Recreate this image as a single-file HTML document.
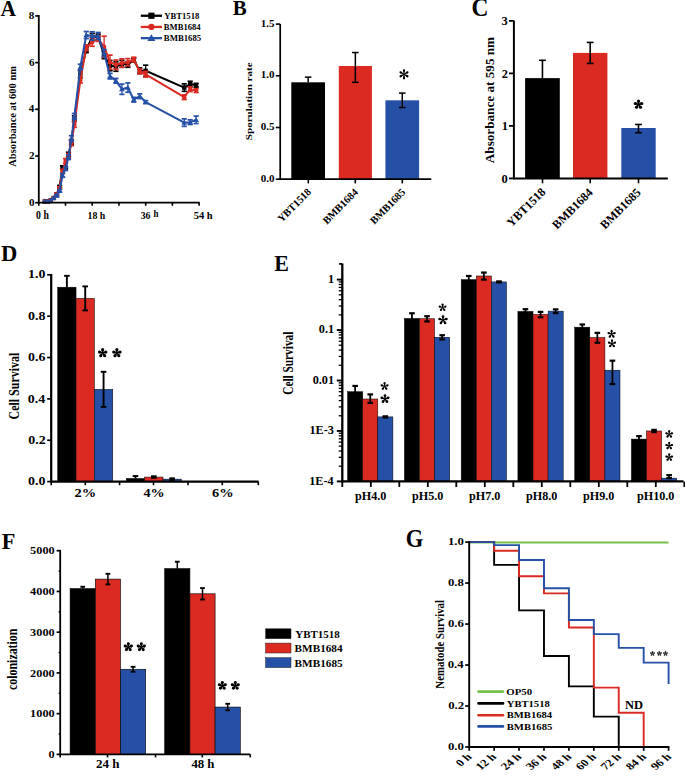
<!DOCTYPE html>
<html><head><meta charset="utf-8"><style>
html,body{margin:0;padding:0;background:#fff;}
svg{display:block;}
text{font-family:"Liberation Serif",serif;font-weight:bold;}
</style></head><body>
<svg width="685" height="776" viewBox="0 0 685 776">
<rect width="685" height="776" fill="#fff"/>
<text transform="translate(0.44 15.70) scale(0.910 1)" font-size="23.69" fill="#000">A</text>
<polyline points="44.74,201.53 47.71,201.53 50.67,200.36 53.64,198.03 56.61,194.53 59.58,186.82 62.55,167.67 65.52,167.67 68.48,154.60 71.45,141.99 74.42,118.64 80.36,74.27 86.30,49.76 92.23,36.91 98.17,36.91 104.11,55.13 110.04,65.64 115.98,66.57 121.92,63.77 127.86,64.47 133.79,60.26 139.73,70.77 145.67,70.77 184.26,87.58 190.19,84.08 196.13,85.25" fill="none" stroke="#000" stroke-width="2" stroke-linejoin="round"/>
<rect x="42.54" y="199.33" width="4.40" height="4.40" fill="#000"/>
<rect x="45.51" y="199.33" width="4.40" height="4.40" fill="#000"/>
<rect x="48.47" y="198.16" width="4.40" height="4.40" fill="#000"/>
<rect x="51.44" y="195.83" width="4.40" height="4.40" fill="#000"/>
<line x1="56.61" y1="193.36" x2="56.61" y2="195.69" stroke="#000" stroke-width="1.3" stroke-linecap="butt"/>
<line x1="54.01" y1="193.36" x2="59.21" y2="193.36" stroke="#000" stroke-width="1.7" stroke-linecap="butt"/>
<line x1="54.01" y1="195.69" x2="59.21" y2="195.69" stroke="#000" stroke-width="1.7" stroke-linecap="butt"/>
<rect x="54.41" y="192.33" width="4.40" height="4.40" fill="#000"/>
<line x1="59.58" y1="185.65" x2="59.58" y2="187.99" stroke="#000" stroke-width="1.3" stroke-linecap="butt"/>
<line x1="56.98" y1="185.65" x2="62.18" y2="185.65" stroke="#000" stroke-width="1.7" stroke-linecap="butt"/>
<line x1="56.98" y1="187.99" x2="62.18" y2="187.99" stroke="#000" stroke-width="1.7" stroke-linecap="butt"/>
<rect x="57.38" y="184.62" width="4.40" height="4.40" fill="#000"/>
<line x1="62.55" y1="165.81" x2="62.55" y2="169.54" stroke="#000" stroke-width="1.3" stroke-linecap="butt"/>
<line x1="59.95" y1="165.81" x2="65.15" y2="165.81" stroke="#000" stroke-width="1.7" stroke-linecap="butt"/>
<line x1="59.95" y1="169.54" x2="65.15" y2="169.54" stroke="#000" stroke-width="1.7" stroke-linecap="butt"/>
<rect x="60.35" y="165.47" width="4.40" height="4.40" fill="#000"/>
<line x1="65.52" y1="166.51" x2="65.52" y2="168.84" stroke="#000" stroke-width="1.3" stroke-linecap="butt"/>
<line x1="62.92" y1="166.51" x2="68.12" y2="166.51" stroke="#000" stroke-width="1.7" stroke-linecap="butt"/>
<line x1="62.92" y1="168.84" x2="68.12" y2="168.84" stroke="#000" stroke-width="1.7" stroke-linecap="butt"/>
<rect x="63.32" y="165.47" width="4.40" height="4.40" fill="#000"/>
<line x1="68.48" y1="152.26" x2="68.48" y2="156.93" stroke="#000" stroke-width="1.3" stroke-linecap="butt"/>
<line x1="65.89" y1="152.26" x2="71.08" y2="152.26" stroke="#000" stroke-width="1.7" stroke-linecap="butt"/>
<line x1="65.89" y1="156.93" x2="71.08" y2="156.93" stroke="#000" stroke-width="1.7" stroke-linecap="butt"/>
<rect x="66.28" y="152.40" width="4.40" height="4.40" fill="#000"/>
<line x1="71.45" y1="139.65" x2="71.45" y2="144.32" stroke="#000" stroke-width="1.3" stroke-linecap="butt"/>
<line x1="68.85" y1="139.65" x2="74.05" y2="139.65" stroke="#000" stroke-width="1.7" stroke-linecap="butt"/>
<line x1="68.85" y1="144.32" x2="74.05" y2="144.32" stroke="#000" stroke-width="1.7" stroke-linecap="butt"/>
<rect x="69.25" y="139.79" width="4.40" height="4.40" fill="#000"/>
<line x1="74.42" y1="115.84" x2="74.42" y2="121.44" stroke="#000" stroke-width="1.3" stroke-linecap="butt"/>
<line x1="71.82" y1="115.84" x2="77.02" y2="115.84" stroke="#000" stroke-width="1.7" stroke-linecap="butt"/>
<line x1="71.82" y1="121.44" x2="77.02" y2="121.44" stroke="#000" stroke-width="1.7" stroke-linecap="butt"/>
<rect x="72.22" y="116.44" width="4.40" height="4.40" fill="#000"/>
<line x1="80.36" y1="70.77" x2="80.36" y2="77.78" stroke="#000" stroke-width="1.3" stroke-linecap="butt"/>
<line x1="77.76" y1="70.77" x2="82.96" y2="70.77" stroke="#000" stroke-width="1.7" stroke-linecap="butt"/>
<line x1="77.76" y1="77.78" x2="82.96" y2="77.78" stroke="#000" stroke-width="1.7" stroke-linecap="butt"/>
<rect x="78.16" y="72.07" width="4.40" height="4.40" fill="#000"/>
<line x1="86.30" y1="46.96" x2="86.30" y2="52.56" stroke="#000" stroke-width="1.3" stroke-linecap="butt"/>
<line x1="83.70" y1="46.96" x2="88.90" y2="46.96" stroke="#000" stroke-width="1.7" stroke-linecap="butt"/>
<line x1="83.70" y1="52.56" x2="88.90" y2="52.56" stroke="#000" stroke-width="1.7" stroke-linecap="butt"/>
<rect x="84.10" y="47.56" width="4.40" height="4.40" fill="#000"/>
<line x1="92.23" y1="33.41" x2="92.23" y2="40.42" stroke="#000" stroke-width="1.3" stroke-linecap="butt"/>
<line x1="89.63" y1="33.41" x2="94.83" y2="33.41" stroke="#000" stroke-width="1.7" stroke-linecap="butt"/>
<line x1="89.63" y1="40.42" x2="94.83" y2="40.42" stroke="#000" stroke-width="1.7" stroke-linecap="butt"/>
<rect x="90.03" y="34.71" width="4.40" height="4.40" fill="#000"/>
<line x1="98.17" y1="34.11" x2="98.17" y2="39.72" stroke="#000" stroke-width="1.3" stroke-linecap="butt"/>
<line x1="95.57" y1="34.11" x2="100.77" y2="34.11" stroke="#000" stroke-width="1.7" stroke-linecap="butt"/>
<line x1="95.57" y1="39.72" x2="100.77" y2="39.72" stroke="#000" stroke-width="1.7" stroke-linecap="butt"/>
<rect x="95.97" y="34.71" width="4.40" height="4.40" fill="#000"/>
<line x1="104.11" y1="51.63" x2="104.11" y2="58.63" stroke="#000" stroke-width="1.3" stroke-linecap="butt"/>
<line x1="101.51" y1="51.63" x2="106.71" y2="51.63" stroke="#000" stroke-width="1.7" stroke-linecap="butt"/>
<line x1="101.51" y1="58.63" x2="106.71" y2="58.63" stroke="#000" stroke-width="1.7" stroke-linecap="butt"/>
<rect x="101.91" y="52.93" width="4.40" height="4.40" fill="#000"/>
<line x1="110.04" y1="60.50" x2="110.04" y2="70.77" stroke="#000" stroke-width="1.3" stroke-linecap="butt"/>
<line x1="107.44" y1="60.50" x2="112.64" y2="60.50" stroke="#000" stroke-width="1.7" stroke-linecap="butt"/>
<line x1="107.44" y1="70.77" x2="112.64" y2="70.77" stroke="#000" stroke-width="1.7" stroke-linecap="butt"/>
<rect x="107.84" y="63.44" width="4.40" height="4.40" fill="#000"/>
<line x1="115.98" y1="61.90" x2="115.98" y2="71.24" stroke="#000" stroke-width="1.3" stroke-linecap="butt"/>
<line x1="113.38" y1="61.90" x2="118.58" y2="61.90" stroke="#000" stroke-width="1.7" stroke-linecap="butt"/>
<line x1="113.38" y1="71.24" x2="118.58" y2="71.24" stroke="#000" stroke-width="1.7" stroke-linecap="butt"/>
<rect x="113.78" y="64.37" width="4.40" height="4.40" fill="#000"/>
<line x1="121.92" y1="60.26" x2="121.92" y2="67.27" stroke="#000" stroke-width="1.3" stroke-linecap="butt"/>
<line x1="119.32" y1="60.26" x2="124.52" y2="60.26" stroke="#000" stroke-width="1.7" stroke-linecap="butt"/>
<line x1="119.32" y1="67.27" x2="124.52" y2="67.27" stroke="#000" stroke-width="1.7" stroke-linecap="butt"/>
<rect x="119.72" y="61.57" width="4.40" height="4.40" fill="#000"/>
<line x1="127.86" y1="61.67" x2="127.86" y2="67.27" stroke="#000" stroke-width="1.3" stroke-linecap="butt"/>
<line x1="125.26" y1="61.67" x2="130.46" y2="61.67" stroke="#000" stroke-width="1.7" stroke-linecap="butt"/>
<line x1="125.26" y1="67.27" x2="130.46" y2="67.27" stroke="#000" stroke-width="1.7" stroke-linecap="butt"/>
<rect x="125.66" y="62.27" width="4.40" height="4.40" fill="#000"/>
<line x1="133.79" y1="58.40" x2="133.79" y2="62.13" stroke="#000" stroke-width="1.3" stroke-linecap="butt"/>
<line x1="131.19" y1="58.40" x2="136.39" y2="58.40" stroke="#000" stroke-width="1.7" stroke-linecap="butt"/>
<line x1="131.19" y1="62.13" x2="136.39" y2="62.13" stroke="#000" stroke-width="1.7" stroke-linecap="butt"/>
<rect x="131.59" y="58.06" width="4.40" height="4.40" fill="#000"/>
<line x1="139.73" y1="67.97" x2="139.73" y2="73.57" stroke="#000" stroke-width="1.3" stroke-linecap="butt"/>
<line x1="137.13" y1="67.97" x2="142.33" y2="67.97" stroke="#000" stroke-width="1.7" stroke-linecap="butt"/>
<line x1="137.13" y1="73.57" x2="142.33" y2="73.57" stroke="#000" stroke-width="1.7" stroke-linecap="butt"/>
<rect x="137.53" y="68.57" width="4.40" height="4.40" fill="#000"/>
<line x1="145.67" y1="65.17" x2="145.67" y2="76.38" stroke="#000" stroke-width="1.3" stroke-linecap="butt"/>
<line x1="143.07" y1="65.17" x2="148.27" y2="65.17" stroke="#000" stroke-width="1.7" stroke-linecap="butt"/>
<line x1="143.07" y1="76.38" x2="148.27" y2="76.38" stroke="#000" stroke-width="1.7" stroke-linecap="butt"/>
<rect x="143.47" y="68.57" width="4.40" height="4.40" fill="#000"/>
<line x1="184.26" y1="83.85" x2="184.26" y2="91.32" stroke="#000" stroke-width="1.3" stroke-linecap="butt"/>
<line x1="181.66" y1="83.85" x2="186.86" y2="83.85" stroke="#000" stroke-width="1.7" stroke-linecap="butt"/>
<line x1="181.66" y1="91.32" x2="186.86" y2="91.32" stroke="#000" stroke-width="1.7" stroke-linecap="butt"/>
<rect x="182.06" y="85.38" width="4.40" height="4.40" fill="#000"/>
<line x1="190.19" y1="81.28" x2="190.19" y2="86.88" stroke="#000" stroke-width="1.3" stroke-linecap="butt"/>
<line x1="187.59" y1="81.28" x2="192.79" y2="81.28" stroke="#000" stroke-width="1.7" stroke-linecap="butt"/>
<line x1="187.59" y1="86.88" x2="192.79" y2="86.88" stroke="#000" stroke-width="1.7" stroke-linecap="butt"/>
<rect x="187.99" y="81.88" width="4.40" height="4.40" fill="#000"/>
<line x1="196.13" y1="83.38" x2="196.13" y2="87.12" stroke="#000" stroke-width="1.3" stroke-linecap="butt"/>
<line x1="193.53" y1="83.38" x2="198.73" y2="83.38" stroke="#000" stroke-width="1.7" stroke-linecap="butt"/>
<line x1="193.53" y1="87.12" x2="198.73" y2="87.12" stroke="#000" stroke-width="1.7" stroke-linecap="butt"/>
<rect x="193.93" y="83.05" width="4.40" height="4.40" fill="#000"/>
<polyline points="44.74,201.53 47.71,201.53 50.67,200.36 53.64,198.03 56.61,194.53 59.58,187.99 62.55,171.41 65.52,160.90 68.48,156.00 71.45,142.92 74.42,124.48 80.36,80.11 86.30,47.66 92.23,42.05 98.17,38.55 104.11,46.72 110.04,62.13 115.98,64.70 121.92,63.07 127.86,62.13 133.79,59.56 139.73,71.47 145.67,74.27 184.26,97.16 190.19,89.22 196.13,90.62" fill="none" stroke="#da2a21" stroke-width="2" stroke-linejoin="round"/>
<circle cx="44.74" cy="201.53" r="2.20" fill="#da2a21"/>
<circle cx="47.71" cy="201.53" r="2.20" fill="#da2a21"/>
<circle cx="50.67" cy="200.36" r="2.20" fill="#da2a21"/>
<circle cx="53.64" cy="198.03" r="2.20" fill="#da2a21"/>
<line x1="56.61" y1="193.36" x2="56.61" y2="195.69" stroke="#da2a21" stroke-width="1.3" stroke-linecap="butt"/>
<line x1="54.01" y1="193.36" x2="59.21" y2="193.36" stroke="#da2a21" stroke-width="1.7" stroke-linecap="butt"/>
<line x1="54.01" y1="195.69" x2="59.21" y2="195.69" stroke="#da2a21" stroke-width="1.7" stroke-linecap="butt"/>
<circle cx="56.61" cy="194.53" r="2.20" fill="#da2a21"/>
<line x1="59.58" y1="186.82" x2="59.58" y2="189.16" stroke="#da2a21" stroke-width="1.3" stroke-linecap="butt"/>
<line x1="56.98" y1="186.82" x2="62.18" y2="186.82" stroke="#da2a21" stroke-width="1.7" stroke-linecap="butt"/>
<line x1="56.98" y1="189.16" x2="62.18" y2="189.16" stroke="#da2a21" stroke-width="1.7" stroke-linecap="butt"/>
<circle cx="59.58" cy="187.99" r="2.20" fill="#da2a21"/>
<line x1="62.55" y1="169.54" x2="62.55" y2="173.28" stroke="#da2a21" stroke-width="1.3" stroke-linecap="butt"/>
<line x1="59.95" y1="169.54" x2="65.15" y2="169.54" stroke="#da2a21" stroke-width="1.7" stroke-linecap="butt"/>
<line x1="59.95" y1="173.28" x2="65.15" y2="173.28" stroke="#da2a21" stroke-width="1.7" stroke-linecap="butt"/>
<circle cx="62.55" cy="171.41" r="2.20" fill="#da2a21"/>
<line x1="65.52" y1="158.57" x2="65.52" y2="163.24" stroke="#da2a21" stroke-width="1.3" stroke-linecap="butt"/>
<line x1="62.92" y1="158.57" x2="68.12" y2="158.57" stroke="#da2a21" stroke-width="1.7" stroke-linecap="butt"/>
<line x1="62.92" y1="163.24" x2="68.12" y2="163.24" stroke="#da2a21" stroke-width="1.7" stroke-linecap="butt"/>
<circle cx="65.52" cy="160.90" r="2.20" fill="#da2a21"/>
<line x1="68.48" y1="153.66" x2="68.48" y2="158.33" stroke="#da2a21" stroke-width="1.3" stroke-linecap="butt"/>
<line x1="65.89" y1="153.66" x2="71.08" y2="153.66" stroke="#da2a21" stroke-width="1.7" stroke-linecap="butt"/>
<line x1="65.89" y1="158.33" x2="71.08" y2="158.33" stroke="#da2a21" stroke-width="1.7" stroke-linecap="butt"/>
<circle cx="68.48" cy="156.00" r="2.20" fill="#da2a21"/>
<line x1="71.45" y1="140.12" x2="71.45" y2="145.73" stroke="#da2a21" stroke-width="1.3" stroke-linecap="butt"/>
<line x1="68.85" y1="140.12" x2="74.05" y2="140.12" stroke="#da2a21" stroke-width="1.7" stroke-linecap="butt"/>
<line x1="68.85" y1="145.73" x2="74.05" y2="145.73" stroke="#da2a21" stroke-width="1.7" stroke-linecap="butt"/>
<circle cx="71.45" cy="142.92" r="2.20" fill="#da2a21"/>
<line x1="74.42" y1="121.68" x2="74.42" y2="127.28" stroke="#da2a21" stroke-width="1.3" stroke-linecap="butt"/>
<line x1="71.82" y1="121.68" x2="77.02" y2="121.68" stroke="#da2a21" stroke-width="1.7" stroke-linecap="butt"/>
<line x1="71.82" y1="127.28" x2="77.02" y2="127.28" stroke="#da2a21" stroke-width="1.7" stroke-linecap="butt"/>
<circle cx="74.42" cy="124.48" r="2.20" fill="#da2a21"/>
<line x1="80.36" y1="77.31" x2="80.36" y2="82.91" stroke="#da2a21" stroke-width="1.3" stroke-linecap="butt"/>
<line x1="77.76" y1="77.31" x2="82.96" y2="77.31" stroke="#da2a21" stroke-width="1.7" stroke-linecap="butt"/>
<line x1="77.76" y1="82.91" x2="82.96" y2="82.91" stroke="#da2a21" stroke-width="1.7" stroke-linecap="butt"/>
<circle cx="80.36" cy="80.11" r="2.20" fill="#da2a21"/>
<line x1="86.30" y1="44.85" x2="86.30" y2="50.46" stroke="#da2a21" stroke-width="1.3" stroke-linecap="butt"/>
<line x1="83.70" y1="44.85" x2="88.90" y2="44.85" stroke="#da2a21" stroke-width="1.7" stroke-linecap="butt"/>
<line x1="83.70" y1="50.46" x2="88.90" y2="50.46" stroke="#da2a21" stroke-width="1.7" stroke-linecap="butt"/>
<circle cx="86.30" cy="47.66" r="2.20" fill="#da2a21"/>
<line x1="92.23" y1="37.85" x2="92.23" y2="46.25" stroke="#da2a21" stroke-width="1.3" stroke-linecap="butt"/>
<line x1="89.63" y1="37.85" x2="94.83" y2="37.85" stroke="#da2a21" stroke-width="1.7" stroke-linecap="butt"/>
<line x1="89.63" y1="46.25" x2="94.83" y2="46.25" stroke="#da2a21" stroke-width="1.7" stroke-linecap="butt"/>
<circle cx="92.23" cy="42.05" r="2.20" fill="#da2a21"/>
<line x1="98.17" y1="35.75" x2="98.17" y2="41.35" stroke="#da2a21" stroke-width="1.3" stroke-linecap="butt"/>
<line x1="95.57" y1="35.75" x2="100.77" y2="35.75" stroke="#da2a21" stroke-width="1.7" stroke-linecap="butt"/>
<line x1="95.57" y1="41.35" x2="100.77" y2="41.35" stroke="#da2a21" stroke-width="1.7" stroke-linecap="butt"/>
<circle cx="98.17" cy="38.55" r="2.20" fill="#da2a21"/>
<line x1="104.11" y1="36.21" x2="104.11" y2="57.23" stroke="#da2a21" stroke-width="1.3" stroke-linecap="butt"/>
<line x1="101.51" y1="36.21" x2="106.71" y2="36.21" stroke="#da2a21" stroke-width="1.7" stroke-linecap="butt"/>
<line x1="101.51" y1="57.23" x2="106.71" y2="57.23" stroke="#da2a21" stroke-width="1.7" stroke-linecap="butt"/>
<circle cx="104.11" cy="46.72" r="2.20" fill="#da2a21"/>
<line x1="110.04" y1="55.13" x2="110.04" y2="69.14" stroke="#da2a21" stroke-width="1.3" stroke-linecap="butt"/>
<line x1="107.44" y1="55.13" x2="112.64" y2="55.13" stroke="#da2a21" stroke-width="1.7" stroke-linecap="butt"/>
<line x1="107.44" y1="69.14" x2="112.64" y2="69.14" stroke="#da2a21" stroke-width="1.7" stroke-linecap="butt"/>
<circle cx="110.04" cy="62.13" r="2.20" fill="#da2a21"/>
<line x1="115.98" y1="60.03" x2="115.98" y2="69.37" stroke="#da2a21" stroke-width="1.3" stroke-linecap="butt"/>
<line x1="113.38" y1="60.03" x2="118.58" y2="60.03" stroke="#da2a21" stroke-width="1.7" stroke-linecap="butt"/>
<line x1="113.38" y1="69.37" x2="118.58" y2="69.37" stroke="#da2a21" stroke-width="1.7" stroke-linecap="butt"/>
<circle cx="115.98" cy="64.70" r="2.20" fill="#da2a21"/>
<line x1="121.92" y1="58.86" x2="121.92" y2="67.27" stroke="#da2a21" stroke-width="1.3" stroke-linecap="butt"/>
<line x1="119.32" y1="58.86" x2="124.52" y2="58.86" stroke="#da2a21" stroke-width="1.7" stroke-linecap="butt"/>
<line x1="119.32" y1="67.27" x2="124.52" y2="67.27" stroke="#da2a21" stroke-width="1.7" stroke-linecap="butt"/>
<circle cx="121.92" cy="63.07" r="2.20" fill="#da2a21"/>
<line x1="127.86" y1="58.63" x2="127.86" y2="65.64" stroke="#da2a21" stroke-width="1.3" stroke-linecap="butt"/>
<line x1="125.26" y1="58.63" x2="130.46" y2="58.63" stroke="#da2a21" stroke-width="1.7" stroke-linecap="butt"/>
<line x1="125.26" y1="65.64" x2="130.46" y2="65.64" stroke="#da2a21" stroke-width="1.7" stroke-linecap="butt"/>
<circle cx="127.86" cy="62.13" r="2.20" fill="#da2a21"/>
<line x1="133.79" y1="57.23" x2="133.79" y2="61.90" stroke="#da2a21" stroke-width="1.3" stroke-linecap="butt"/>
<line x1="131.19" y1="57.23" x2="136.39" y2="57.23" stroke="#da2a21" stroke-width="1.7" stroke-linecap="butt"/>
<line x1="131.19" y1="61.90" x2="136.39" y2="61.90" stroke="#da2a21" stroke-width="1.7" stroke-linecap="butt"/>
<circle cx="133.79" cy="59.56" r="2.20" fill="#da2a21"/>
<line x1="139.73" y1="69.14" x2="139.73" y2="73.81" stroke="#da2a21" stroke-width="1.3" stroke-linecap="butt"/>
<line x1="137.13" y1="69.14" x2="142.33" y2="69.14" stroke="#da2a21" stroke-width="1.7" stroke-linecap="butt"/>
<line x1="137.13" y1="73.81" x2="142.33" y2="73.81" stroke="#da2a21" stroke-width="1.7" stroke-linecap="butt"/>
<circle cx="139.73" cy="71.47" r="2.20" fill="#da2a21"/>
<line x1="145.67" y1="71.47" x2="145.67" y2="77.08" stroke="#da2a21" stroke-width="1.3" stroke-linecap="butt"/>
<line x1="143.07" y1="71.47" x2="148.27" y2="71.47" stroke="#da2a21" stroke-width="1.7" stroke-linecap="butt"/>
<line x1="143.07" y1="77.08" x2="148.27" y2="77.08" stroke="#da2a21" stroke-width="1.7" stroke-linecap="butt"/>
<circle cx="145.67" cy="74.27" r="2.20" fill="#da2a21"/>
<line x1="184.26" y1="94.82" x2="184.26" y2="99.49" stroke="#da2a21" stroke-width="1.3" stroke-linecap="butt"/>
<line x1="181.66" y1="94.82" x2="186.86" y2="94.82" stroke="#da2a21" stroke-width="1.7" stroke-linecap="butt"/>
<line x1="181.66" y1="99.49" x2="186.86" y2="99.49" stroke="#da2a21" stroke-width="1.7" stroke-linecap="butt"/>
<circle cx="184.26" cy="97.16" r="2.20" fill="#da2a21"/>
<line x1="190.19" y1="86.88" x2="190.19" y2="91.55" stroke="#da2a21" stroke-width="1.3" stroke-linecap="butt"/>
<line x1="187.59" y1="86.88" x2="192.79" y2="86.88" stroke="#da2a21" stroke-width="1.7" stroke-linecap="butt"/>
<line x1="187.59" y1="91.55" x2="192.79" y2="91.55" stroke="#da2a21" stroke-width="1.7" stroke-linecap="butt"/>
<circle cx="190.19" cy="89.22" r="2.20" fill="#da2a21"/>
<line x1="196.13" y1="88.75" x2="196.13" y2="92.49" stroke="#da2a21" stroke-width="1.3" stroke-linecap="butt"/>
<line x1="193.53" y1="88.75" x2="198.73" y2="88.75" stroke="#da2a21" stroke-width="1.7" stroke-linecap="butt"/>
<line x1="193.53" y1="92.49" x2="198.73" y2="92.49" stroke="#da2a21" stroke-width="1.7" stroke-linecap="butt"/>
<circle cx="196.13" cy="90.62" r="2.20" fill="#da2a21"/>
<polyline points="44.74,201.07 47.71,201.53 50.67,200.36 53.64,198.03 56.61,195.69 59.58,190.79 62.55,175.38 65.52,168.61 68.48,157.17 71.45,138.49 74.42,116.30 80.36,67.04 86.30,35.05 92.23,35.98 98.17,35.98 104.11,53.03 110.04,76.14 115.98,80.81 121.92,89.22 127.86,87.58 133.79,99.73 139.73,96.22 145.67,102.06 184.26,122.61 190.19,122.14 196.13,119.81" fill="none" stroke="#2550a6" stroke-width="2" stroke-linejoin="round"/>
<polygon points="44.74,198.32 41.88,203.16 47.60,203.16" fill="#2550a6"/>
<polygon points="47.71,198.78 44.85,203.62 50.57,203.62" fill="#2550a6"/>
<polygon points="50.67,197.61 47.81,202.45 53.53,202.45" fill="#2550a6"/>
<polygon points="53.64,195.28 50.78,200.12 56.50,200.12" fill="#2550a6"/>
<line x1="56.61" y1="194.53" x2="56.61" y2="196.86" stroke="#2550a6" stroke-width="1.3" stroke-linecap="butt"/>
<line x1="54.01" y1="194.53" x2="59.21" y2="194.53" stroke="#2550a6" stroke-width="1.7" stroke-linecap="butt"/>
<line x1="54.01" y1="196.86" x2="59.21" y2="196.86" stroke="#2550a6" stroke-width="1.7" stroke-linecap="butt"/>
<polygon points="56.61,192.94 53.75,197.78 59.47,197.78" fill="#2550a6"/>
<line x1="59.58" y1="189.62" x2="59.58" y2="191.96" stroke="#2550a6" stroke-width="1.3" stroke-linecap="butt"/>
<line x1="56.98" y1="189.62" x2="62.18" y2="189.62" stroke="#2550a6" stroke-width="1.7" stroke-linecap="butt"/>
<line x1="56.98" y1="191.96" x2="62.18" y2="191.96" stroke="#2550a6" stroke-width="1.7" stroke-linecap="butt"/>
<polygon points="59.58,188.04 56.72,192.88 62.44,192.88" fill="#2550a6"/>
<line x1="62.55" y1="173.51" x2="62.55" y2="177.25" stroke="#2550a6" stroke-width="1.3" stroke-linecap="butt"/>
<line x1="59.95" y1="173.51" x2="65.15" y2="173.51" stroke="#2550a6" stroke-width="1.7" stroke-linecap="butt"/>
<line x1="59.95" y1="177.25" x2="65.15" y2="177.25" stroke="#2550a6" stroke-width="1.7" stroke-linecap="butt"/>
<polygon points="62.55,172.63 59.69,177.47 65.41,177.47" fill="#2550a6"/>
<line x1="65.52" y1="166.74" x2="65.52" y2="170.48" stroke="#2550a6" stroke-width="1.3" stroke-linecap="butt"/>
<line x1="62.92" y1="166.74" x2="68.12" y2="166.74" stroke="#2550a6" stroke-width="1.7" stroke-linecap="butt"/>
<line x1="62.92" y1="170.48" x2="68.12" y2="170.48" stroke="#2550a6" stroke-width="1.7" stroke-linecap="butt"/>
<polygon points="65.52,165.86 62.66,170.70 68.38,170.70" fill="#2550a6"/>
<line x1="68.48" y1="154.83" x2="68.48" y2="159.50" stroke="#2550a6" stroke-width="1.3" stroke-linecap="butt"/>
<line x1="65.89" y1="154.83" x2="71.08" y2="154.83" stroke="#2550a6" stroke-width="1.7" stroke-linecap="butt"/>
<line x1="65.89" y1="159.50" x2="71.08" y2="159.50" stroke="#2550a6" stroke-width="1.7" stroke-linecap="butt"/>
<polygon points="68.48,154.42 65.62,159.26 71.34,159.26" fill="#2550a6"/>
<line x1="71.45" y1="135.69" x2="71.45" y2="141.29" stroke="#2550a6" stroke-width="1.3" stroke-linecap="butt"/>
<line x1="68.85" y1="135.69" x2="74.05" y2="135.69" stroke="#2550a6" stroke-width="1.7" stroke-linecap="butt"/>
<line x1="68.85" y1="141.29" x2="74.05" y2="141.29" stroke="#2550a6" stroke-width="1.7" stroke-linecap="butt"/>
<polygon points="71.45,135.74 68.59,140.58 74.31,140.58" fill="#2550a6"/>
<line x1="74.42" y1="113.50" x2="74.42" y2="119.11" stroke="#2550a6" stroke-width="1.3" stroke-linecap="butt"/>
<line x1="71.82" y1="113.50" x2="77.02" y2="113.50" stroke="#2550a6" stroke-width="1.7" stroke-linecap="butt"/>
<line x1="71.82" y1="119.11" x2="77.02" y2="119.11" stroke="#2550a6" stroke-width="1.7" stroke-linecap="butt"/>
<polygon points="74.42,113.55 71.56,118.39 77.28,118.39" fill="#2550a6"/>
<line x1="80.36" y1="64.23" x2="80.36" y2="69.84" stroke="#2550a6" stroke-width="1.3" stroke-linecap="butt"/>
<line x1="77.76" y1="64.23" x2="82.96" y2="64.23" stroke="#2550a6" stroke-width="1.7" stroke-linecap="butt"/>
<line x1="77.76" y1="69.84" x2="82.96" y2="69.84" stroke="#2550a6" stroke-width="1.7" stroke-linecap="butt"/>
<polygon points="80.36,64.29 77.50,69.13 83.22,69.13" fill="#2550a6"/>
<line x1="86.30" y1="31.54" x2="86.30" y2="38.55" stroke="#2550a6" stroke-width="1.3" stroke-linecap="butt"/>
<line x1="83.70" y1="31.54" x2="88.90" y2="31.54" stroke="#2550a6" stroke-width="1.7" stroke-linecap="butt"/>
<line x1="83.70" y1="38.55" x2="88.90" y2="38.55" stroke="#2550a6" stroke-width="1.7" stroke-linecap="butt"/>
<polygon points="86.30,32.30 83.44,37.14 89.16,37.14" fill="#2550a6"/>
<line x1="92.23" y1="31.78" x2="92.23" y2="40.18" stroke="#2550a6" stroke-width="1.3" stroke-linecap="butt"/>
<line x1="89.63" y1="31.78" x2="94.83" y2="31.78" stroke="#2550a6" stroke-width="1.7" stroke-linecap="butt"/>
<line x1="89.63" y1="40.18" x2="94.83" y2="40.18" stroke="#2550a6" stroke-width="1.7" stroke-linecap="butt"/>
<polygon points="92.23,33.23 89.37,38.07 95.09,38.07" fill="#2550a6"/>
<line x1="98.17" y1="32.48" x2="98.17" y2="39.48" stroke="#2550a6" stroke-width="1.3" stroke-linecap="butt"/>
<line x1="95.57" y1="32.48" x2="100.77" y2="32.48" stroke="#2550a6" stroke-width="1.7" stroke-linecap="butt"/>
<line x1="95.57" y1="39.48" x2="100.77" y2="39.48" stroke="#2550a6" stroke-width="1.7" stroke-linecap="butt"/>
<polygon points="98.17,33.23 95.31,38.07 101.03,38.07" fill="#2550a6"/>
<line x1="104.11" y1="49.52" x2="104.11" y2="56.53" stroke="#2550a6" stroke-width="1.3" stroke-linecap="butt"/>
<line x1="101.51" y1="49.52" x2="106.71" y2="49.52" stroke="#2550a6" stroke-width="1.7" stroke-linecap="butt"/>
<line x1="101.51" y1="56.53" x2="106.71" y2="56.53" stroke="#2550a6" stroke-width="1.7" stroke-linecap="butt"/>
<polygon points="104.11,50.28 101.25,55.12 106.97,55.12" fill="#2550a6"/>
<line x1="110.04" y1="73.34" x2="110.04" y2="78.94" stroke="#2550a6" stroke-width="1.3" stroke-linecap="butt"/>
<line x1="107.44" y1="73.34" x2="112.64" y2="73.34" stroke="#2550a6" stroke-width="1.7" stroke-linecap="butt"/>
<line x1="107.44" y1="78.94" x2="112.64" y2="78.94" stroke="#2550a6" stroke-width="1.7" stroke-linecap="butt"/>
<polygon points="110.04,73.39 107.18,78.23 112.90,78.23" fill="#2550a6"/>
<line x1="115.98" y1="78.48" x2="115.98" y2="83.15" stroke="#2550a6" stroke-width="1.3" stroke-linecap="butt"/>
<line x1="113.38" y1="78.48" x2="118.58" y2="78.48" stroke="#2550a6" stroke-width="1.7" stroke-linecap="butt"/>
<line x1="113.38" y1="83.15" x2="118.58" y2="83.15" stroke="#2550a6" stroke-width="1.7" stroke-linecap="butt"/>
<polygon points="115.98,78.06 113.12,82.90 118.84,82.90" fill="#2550a6"/>
<line x1="121.92" y1="84.08" x2="121.92" y2="94.36" stroke="#2550a6" stroke-width="1.3" stroke-linecap="butt"/>
<line x1="119.32" y1="84.08" x2="124.52" y2="84.08" stroke="#2550a6" stroke-width="1.7" stroke-linecap="butt"/>
<line x1="119.32" y1="94.36" x2="124.52" y2="94.36" stroke="#2550a6" stroke-width="1.7" stroke-linecap="butt"/>
<polygon points="121.92,86.47 119.06,91.31 124.78,91.31" fill="#2550a6"/>
<line x1="127.86" y1="82.91" x2="127.86" y2="92.25" stroke="#2550a6" stroke-width="1.3" stroke-linecap="butt"/>
<line x1="125.26" y1="82.91" x2="130.46" y2="82.91" stroke="#2550a6" stroke-width="1.7" stroke-linecap="butt"/>
<line x1="125.26" y1="92.25" x2="130.46" y2="92.25" stroke="#2550a6" stroke-width="1.7" stroke-linecap="butt"/>
<polygon points="127.86,84.83 125.00,89.67 130.72,89.67" fill="#2550a6"/>
<line x1="133.79" y1="97.39" x2="133.79" y2="102.06" stroke="#2550a6" stroke-width="1.3" stroke-linecap="butt"/>
<line x1="131.19" y1="97.39" x2="136.39" y2="97.39" stroke="#2550a6" stroke-width="1.7" stroke-linecap="butt"/>
<line x1="131.19" y1="102.06" x2="136.39" y2="102.06" stroke="#2550a6" stroke-width="1.7" stroke-linecap="butt"/>
<polygon points="133.79,96.98 130.93,101.82 136.65,101.82" fill="#2550a6"/>
<line x1="139.73" y1="93.89" x2="139.73" y2="98.56" stroke="#2550a6" stroke-width="1.3" stroke-linecap="butt"/>
<line x1="137.13" y1="93.89" x2="142.33" y2="93.89" stroke="#2550a6" stroke-width="1.7" stroke-linecap="butt"/>
<line x1="137.13" y1="98.56" x2="142.33" y2="98.56" stroke="#2550a6" stroke-width="1.7" stroke-linecap="butt"/>
<polygon points="139.73,93.47 136.87,98.31 142.59,98.31" fill="#2550a6"/>
<line x1="145.67" y1="100.66" x2="145.67" y2="103.46" stroke="#2550a6" stroke-width="1.3" stroke-linecap="butt"/>
<line x1="143.07" y1="100.66" x2="148.27" y2="100.66" stroke="#2550a6" stroke-width="1.7" stroke-linecap="butt"/>
<line x1="143.07" y1="103.46" x2="148.27" y2="103.46" stroke="#2550a6" stroke-width="1.7" stroke-linecap="butt"/>
<polygon points="145.67,99.31 142.81,104.15 148.53,104.15" fill="#2550a6"/>
<line x1="184.26" y1="118.87" x2="184.26" y2="126.35" stroke="#2550a6" stroke-width="1.3" stroke-linecap="butt"/>
<line x1="181.66" y1="118.87" x2="186.86" y2="118.87" stroke="#2550a6" stroke-width="1.7" stroke-linecap="butt"/>
<line x1="181.66" y1="126.35" x2="186.86" y2="126.35" stroke="#2550a6" stroke-width="1.7" stroke-linecap="butt"/>
<polygon points="184.26,119.86 181.40,124.70 187.12,124.70" fill="#2550a6"/>
<line x1="190.19" y1="119.81" x2="190.19" y2="124.48" stroke="#2550a6" stroke-width="1.3" stroke-linecap="butt"/>
<line x1="187.59" y1="119.81" x2="192.79" y2="119.81" stroke="#2550a6" stroke-width="1.7" stroke-linecap="butt"/>
<line x1="187.59" y1="124.48" x2="192.79" y2="124.48" stroke="#2550a6" stroke-width="1.7" stroke-linecap="butt"/>
<polygon points="190.19,119.39 187.33,124.23 193.05,124.23" fill="#2550a6"/>
<line x1="196.13" y1="116.07" x2="196.13" y2="123.54" stroke="#2550a6" stroke-width="1.3" stroke-linecap="butt"/>
<line x1="193.53" y1="116.07" x2="198.73" y2="116.07" stroke="#2550a6" stroke-width="1.7" stroke-linecap="butt"/>
<line x1="193.53" y1="123.54" x2="198.73" y2="123.54" stroke="#2550a6" stroke-width="1.7" stroke-linecap="butt"/>
<polygon points="196.13,117.06 193.27,121.90 198.99,121.90" fill="#2550a6"/>
<line x1="38.80" y1="15.00" x2="38.80" y2="203.60" stroke="#000" stroke-width="1.8" stroke-linecap="butt"/>
<line x1="37.90" y1="202.70" x2="199.80" y2="202.70" stroke="#000" stroke-width="1.8" stroke-linecap="butt"/>
<line x1="35.20" y1="202.70" x2="38.80" y2="202.70" stroke="#000" stroke-width="1.7" stroke-linecap="butt"/>
<line x1="35.20" y1="156.00" x2="38.80" y2="156.00" stroke="#000" stroke-width="1.7" stroke-linecap="butt"/>
<line x1="35.20" y1="109.30" x2="38.80" y2="109.30" stroke="#000" stroke-width="1.7" stroke-linecap="butt"/>
<line x1="35.20" y1="62.60" x2="38.80" y2="62.60" stroke="#000" stroke-width="1.7" stroke-linecap="butt"/>
<line x1="35.20" y1="15.90" x2="38.80" y2="15.90" stroke="#000" stroke-width="1.7" stroke-linecap="butt"/>
<line x1="38.80" y1="202.70" x2="38.80" y2="205.80" stroke="#000" stroke-width="1.6" stroke-linecap="butt"/>
<line x1="65.52" y1="202.70" x2="65.52" y2="205.80" stroke="#000" stroke-width="1.6" stroke-linecap="butt"/>
<line x1="92.23" y1="202.70" x2="92.23" y2="205.80" stroke="#000" stroke-width="1.6" stroke-linecap="butt"/>
<line x1="118.95" y1="202.70" x2="118.95" y2="205.80" stroke="#000" stroke-width="1.6" stroke-linecap="butt"/>
<line x1="145.67" y1="202.70" x2="145.67" y2="205.80" stroke="#000" stroke-width="1.6" stroke-linecap="butt"/>
<line x1="172.38" y1="202.70" x2="172.38" y2="205.80" stroke="#000" stroke-width="1.6" stroke-linecap="butt"/>
<line x1="199.10" y1="202.70" x2="199.10" y2="205.80" stroke="#000" stroke-width="1.6" stroke-linecap="butt"/>
<text transform="translate(28.83 18.80) scale(1.059 1)" font-size="10.46" fill="#000">8</text>
<text transform="translate(28.93 205.70) scale(1.059 1)" font-size="10.46" fill="#000">0</text>
<text transform="translate(29.12 159.00) scale(1.059 1)" font-size="10.46" fill="#000">2</text>
<text transform="translate(28.75 112.30) scale(1.059 1)" font-size="10.46" fill="#000">4</text>
<text transform="translate(28.93 65.60) scale(1.059 1)" font-size="10.46" fill="#000">6</text>
<text transform="translate(36.07 218.60) scale(0.855 1)" font-size="11.41" fill="#000">0 h</text>
<text transform="translate(87.48 218.70) scale(0.877 1)" font-size="11.27" fill="#000">18 h</text>
<text transform="translate(140.68 218.80) scale(0.918 1)" font-size="10.62" fill="#000">36</text>
<text transform="translate(153.40 217.30) scale(0.918 1)" font-size="9.80" fill="#000">h</text>
<text transform="translate(193.65 218.80) scale(0.921 1)" font-size="11.41" fill="#000">54 h</text>
<text transform="translate(16.10 166.78) rotate(-90) scale(1.028 1)" font-size="10.24" fill="#000">Absorbance at 600 nm</text>
<line x1="140.80" y1="15.75" x2="162.00" y2="15.75" stroke="#000" stroke-width="2.3" stroke-linecap="butt"/>
<rect x="148.30" y="12.65" width="6.20" height="6.20" fill="#000"/>
<text transform="translate(164.26 19.15) scale(1.022 1)" font-size="8.46" fill="#000">YBT1518</text>
<line x1="140.80" y1="26.95" x2="162.00" y2="26.95" stroke="#da2a21" stroke-width="2.3" stroke-linecap="butt"/>
<circle cx="151.40" cy="26.95" r="3.10" fill="#da2a21"/>
<text transform="translate(163.86 29.65) scale(1.018 1)" font-size="8.46" fill="#000">BMB1684</text>
<line x1="140.80" y1="38.15" x2="162.00" y2="38.15" stroke="#2550a6" stroke-width="2.3" stroke-linecap="butt"/>
<polygon points="151.40,34.27 147.37,41.09 155.43,41.09" fill="#2550a6"/>
<text transform="translate(163.85 40.65) scale(1.033 1)" font-size="8.46" fill="#000">BMB1685</text>
<text transform="translate(232.65 14.80) scale(0.958 1)" font-size="21.85" fill="#000">B</text>
<rect x="291.30" y="82.31" width="33.70" height="96.89" fill="#000"/>
<line x1="308.15" y1="77.14" x2="308.15" y2="82.31" stroke="#000" stroke-width="1.5" stroke-linecap="butt"/>
<line x1="304.85" y1="77.14" x2="311.45" y2="77.14" stroke="#000" stroke-width="1.5" stroke-linecap="butt"/>
<rect x="338.80" y="65.98" width="33.10" height="113.22" fill="#da2a21"/>
<line x1="355.35" y1="52.53" x2="355.35" y2="82.31" stroke="#000" stroke-width="1.5" stroke-linecap="butt"/>
<line x1="352.05" y1="52.53" x2="358.65" y2="52.53" stroke="#000" stroke-width="1.5" stroke-linecap="butt"/>
<line x1="352.05" y1="82.31" x2="358.65" y2="82.31" stroke="#000" stroke-width="1.5" stroke-linecap="butt"/>
<rect x="385.40" y="100.31" width="33.70" height="78.89" fill="#2550a6"/>
<line x1="402.25" y1="93.07" x2="402.25" y2="107.54" stroke="#000" stroke-width="1.5" stroke-linecap="butt"/>
<line x1="398.95" y1="93.07" x2="405.55" y2="93.07" stroke="#000" stroke-width="1.5" stroke-linecap="butt"/>
<line x1="398.95" y1="107.54" x2="405.55" y2="107.54" stroke="#000" stroke-width="1.5" stroke-linecap="butt"/>
<line x1="280.20" y1="24.00" x2="280.20" y2="180.00" stroke="#000" stroke-width="1.7" stroke-linecap="butt"/>
<line x1="279.40" y1="179.20" x2="431.30" y2="179.20" stroke="#000" stroke-width="1.8" stroke-linecap="butt"/>
<line x1="275.80" y1="179.20" x2="280.20" y2="179.20" stroke="#000" stroke-width="1.6" stroke-linecap="butt"/>
<line x1="275.80" y1="127.50" x2="280.20" y2="127.50" stroke="#000" stroke-width="1.6" stroke-linecap="butt"/>
<line x1="275.80" y1="75.80" x2="280.20" y2="75.80" stroke="#000" stroke-width="1.6" stroke-linecap="butt"/>
<line x1="275.80" y1="24.10" x2="280.20" y2="24.10" stroke="#000" stroke-width="1.6" stroke-linecap="butt"/>
<line x1="308.30" y1="179.20" x2="308.30" y2="183.40" stroke="#000" stroke-width="1.6" stroke-linecap="butt"/>
<line x1="355.30" y1="179.20" x2="355.30" y2="183.40" stroke="#000" stroke-width="1.6" stroke-linecap="butt"/>
<line x1="402.30" y1="179.20" x2="402.30" y2="183.40" stroke="#000" stroke-width="1.6" stroke-linecap="butt"/>
<text transform="translate(260.78 26.70) scale(0.969 1)" font-size="11.38" fill="#000">1.5</text>
<text transform="translate(260.78 181.80) scale(0.969 1)" font-size="11.38" fill="#000">0.0</text>
<text transform="translate(260.78 130.10) scale(0.969 1)" font-size="11.38" fill="#000">0.5</text>
<text transform="translate(260.78 78.40) scale(0.969 1)" font-size="11.38" fill="#000">1.0</text>
<text transform="translate(251.82 140.15) rotate(-90) scale(1.347 1)" font-size="8.22" fill="#000">Sporulation rate</text>
<text transform="translate(281.64 222.75) rotate(-45)" font-size="10.53" fill="#000">YBT1518</text>
<text transform="translate(326.89 224.68) rotate(-45)" font-size="10.53" fill="#000">BMB1684</text>
<text transform="translate(374.24 224.68) rotate(-45)" font-size="10.53" fill="#000">BMB1685</text>
<g fill="#000"><polygon points="403.63,74.30 402.94,70.35 405.06,70.35 404.37,74.30"/><circle cx="404.00" cy="70.35" r="1.15"/><polygon points="403.82,73.98 406.89,71.41 407.95,73.24 404.18,74.62"/><circle cx="407.42" cy="72.33" r="1.15"/><polygon points="404.18,73.98 407.95,75.36 406.89,77.19 403.82,74.62"/><circle cx="407.42" cy="76.27" r="1.15"/><polygon points="404.37,74.30 405.06,78.25 402.94,78.25 403.63,74.30"/><circle cx="404.00" cy="78.25" r="1.15"/><polygon points="404.18,74.62 401.11,77.19 400.05,75.36 403.82,73.98"/><circle cx="400.58" cy="76.28" r="1.15"/><polygon points="403.82,74.62 400.05,73.24 401.11,71.41 404.18,73.98"/><circle cx="400.58" cy="72.33" r="1.15"/><circle cx="404.00" cy="74.30" r="0.48"/></g>
<text transform="translate(471.53 15.80) scale(0.973 1)" font-size="24.15" fill="#000">C</text>
<rect x="525.10" y="78.13" width="34.70" height="100.27" fill="#000"/>
<line x1="542.45" y1="60.28" x2="542.45" y2="78.13" stroke="#000" stroke-width="1.6" stroke-linecap="butt"/>
<line x1="539.05" y1="60.28" x2="545.85" y2="60.28" stroke="#000" stroke-width="1.6" stroke-linecap="butt"/>
<rect x="573.00" y="52.92" width="34.40" height="125.48" fill="#da2a21"/>
<line x1="590.20" y1="42.42" x2="590.20" y2="63.43" stroke="#000" stroke-width="1.6" stroke-linecap="butt"/>
<line x1="586.80" y1="42.42" x2="593.60" y2="42.42" stroke="#000" stroke-width="1.6" stroke-linecap="butt"/>
<line x1="586.80" y1="63.43" x2="593.60" y2="63.43" stroke="#000" stroke-width="1.6" stroke-linecap="butt"/>
<rect x="621.30" y="128.00" width="34.40" height="50.40" fill="#2550a6"/>
<line x1="638.50" y1="124.48" x2="638.50" y2="132.73" stroke="#000" stroke-width="1.6" stroke-linecap="butt"/>
<line x1="635.10" y1="124.48" x2="641.90" y2="124.48" stroke="#000" stroke-width="1.6" stroke-linecap="butt"/>
<line x1="635.10" y1="132.73" x2="641.90" y2="132.73" stroke="#000" stroke-width="1.6" stroke-linecap="butt"/>
<line x1="513.90" y1="20.50" x2="513.90" y2="179.30" stroke="#000" stroke-width="2.0" stroke-linecap="butt"/>
<line x1="513.00" y1="178.40" x2="667.80" y2="178.40" stroke="#000" stroke-width="2.0" stroke-linecap="butt"/>
<line x1="509.00" y1="178.40" x2="513.90" y2="178.40" stroke="#000" stroke-width="1.8" stroke-linecap="butt"/>
<line x1="509.00" y1="125.90" x2="513.90" y2="125.90" stroke="#000" stroke-width="1.8" stroke-linecap="butt"/>
<line x1="509.00" y1="73.40" x2="513.90" y2="73.40" stroke="#000" stroke-width="1.8" stroke-linecap="butt"/>
<line x1="509.00" y1="20.90" x2="513.90" y2="20.90" stroke="#000" stroke-width="1.8" stroke-linecap="butt"/>
<line x1="542.50" y1="178.40" x2="542.50" y2="183.30" stroke="#000" stroke-width="1.6" stroke-linecap="butt"/>
<line x1="590.20" y1="178.40" x2="590.20" y2="183.30" stroke="#000" stroke-width="1.6" stroke-linecap="butt"/>
<line x1="638.50" y1="178.40" x2="638.50" y2="183.30" stroke="#000" stroke-width="1.6" stroke-linecap="butt"/>
<text transform="translate(501.48 25.40) scale(0.964 1)" font-size="12.92" fill="#000">3</text>
<text transform="translate(501.48 182.90) scale(0.964 1)" font-size="12.92" fill="#000">0</text>
<text transform="translate(501.69 130.40) scale(0.964 1)" font-size="12.92" fill="#000">1</text>
<text transform="translate(501.69 77.90) scale(0.964 1)" font-size="12.92" fill="#000">2</text>
<text transform="translate(494.00 163.22) rotate(-90) scale(1.036 1)" font-size="12.73" fill="#000">Absorbance at 595 nm</text>
<text transform="translate(511.58 227.45) rotate(-45)" font-size="12.08" fill="#000">YBT1518</text>
<text transform="translate(557.07 229.67) rotate(-45)" font-size="12.08" fill="#000">BMB1684</text>
<text transform="translate(604.97 229.67) rotate(-45)" font-size="12.08" fill="#000">BMB1685</text>
<g fill="#000"><polygon points="638.00,104.50 637.07,101.05 639.93,101.05 639.00,104.50"/><circle cx="638.50" cy="101.05" r="1.55"/><polygon points="638.35,104.03 641.34,102.08 642.22,104.79 638.65,104.97"/><circle cx="641.78" cy="103.43" r="1.55"/><polygon points="638.90,104.21 641.68,106.45 639.37,108.13 638.10,104.79"/><circle cx="640.53" cy="107.29" r="1.55"/><polygon points="638.90,104.79 637.63,108.13 635.32,106.45 638.10,104.21"/><circle cx="636.47" cy="107.29" r="1.55"/><polygon points="638.35,104.97 634.78,104.79 635.66,102.08 638.65,104.03"/><circle cx="635.22" cy="103.43" r="1.55"/><circle cx="638.50" cy="104.50" r="0.64"/></g>
<text transform="translate(0.92 260.70) scale(0.961 1)" font-size="23.54" fill="#000">D</text>
<rect x="57.70" y="287.21" width="18.35" height="194.39" fill="#000" stroke="#000" stroke-width="0.5"/>
<line x1="66.87" y1="275.83" x2="66.87" y2="287.21" stroke="#000" stroke-width="1.9" stroke-linecap="butt"/>
<line x1="64.07" y1="275.83" x2="69.67" y2="275.83" stroke="#000" stroke-width="1.9" stroke-linecap="butt"/>
<rect x="76.05" y="298.38" width="18.35" height="183.22" fill="#da2a21" stroke="#000" stroke-width="0.5"/>
<line x1="85.22" y1="286.38" x2="85.22" y2="310.37" stroke="#000" stroke-width="1.9" stroke-linecap="butt"/>
<line x1="82.42" y1="286.38" x2="88.02" y2="286.38" stroke="#000" stroke-width="1.9" stroke-linecap="butt"/>
<line x1="82.42" y1="310.37" x2="88.02" y2="310.37" stroke="#000" stroke-width="1.9" stroke-linecap="butt"/>
<rect x="94.40" y="389.37" width="18.35" height="92.23" fill="#2550a6" stroke="#000" stroke-width="0.5"/>
<line x1="103.57" y1="371.79" x2="103.57" y2="406.95" stroke="#000" stroke-width="1.9" stroke-linecap="butt"/>
<line x1="100.77" y1="371.79" x2="106.37" y2="371.79" stroke="#000" stroke-width="1.9" stroke-linecap="butt"/>
<line x1="100.77" y1="406.95" x2="106.37" y2="406.95" stroke="#000" stroke-width="1.9" stroke-linecap="butt"/>
<rect x="126.30" y="478.50" width="18.35" height="3.10" fill="#000" stroke="#000" stroke-width="0.5"/>
<line x1="135.47" y1="476.02" x2="135.47" y2="478.50" stroke="#000" stroke-width="1.9" stroke-linecap="butt"/>
<line x1="132.67" y1="476.02" x2="138.27" y2="476.02" stroke="#000" stroke-width="1.9" stroke-linecap="butt"/>
<rect x="144.65" y="477.05" width="18.35" height="4.55" fill="#da2a21" stroke="#000" stroke-width="0.5"/>
<line x1="153.82" y1="476.22" x2="153.82" y2="477.88" stroke="#000" stroke-width="1.9" stroke-linecap="butt"/>
<line x1="151.02" y1="476.22" x2="156.62" y2="476.22" stroke="#000" stroke-width="1.9" stroke-linecap="butt"/>
<line x1="151.02" y1="477.88" x2="156.62" y2="477.88" stroke="#000" stroke-width="1.9" stroke-linecap="butt"/>
<rect x="163.00" y="479.12" width="18.35" height="2.48" fill="#2550a6" stroke="#000" stroke-width="0.5"/>
<line x1="172.17" y1="478.29" x2="172.17" y2="479.95" stroke="#000" stroke-width="1.9" stroke-linecap="butt"/>
<line x1="169.37" y1="478.29" x2="174.97" y2="478.29" stroke="#000" stroke-width="1.9" stroke-linecap="butt"/>
<line x1="169.37" y1="479.95" x2="174.97" y2="479.95" stroke="#000" stroke-width="1.9" stroke-linecap="butt"/>
<rect x="194.60" y="481.43" width="18.35" height="0.17" fill="#000" stroke="#000" stroke-width="0.5"/>
<rect x="212.95" y="481.43" width="18.35" height="0.17" fill="#da2a21" stroke="#000" stroke-width="0.5"/>
<rect x="231.30" y="481.43" width="18.35" height="0.17" fill="#2550a6" stroke="#000" stroke-width="0.5"/>
<line x1="51.20" y1="274.00" x2="51.20" y2="482.60" stroke="#000" stroke-width="2.2" stroke-linecap="butt"/>
<line x1="50.20" y1="481.60" x2="258.50" y2="481.60" stroke="#000" stroke-width="2.1" stroke-linecap="butt"/>
<line x1="47.20" y1="481.60" x2="51.20" y2="481.60" stroke="#000" stroke-width="1.7" stroke-linecap="butt"/>
<line x1="47.20" y1="440.24" x2="51.20" y2="440.24" stroke="#000" stroke-width="1.7" stroke-linecap="butt"/>
<line x1="47.20" y1="398.88" x2="51.20" y2="398.88" stroke="#000" stroke-width="1.7" stroke-linecap="butt"/>
<line x1="47.20" y1="357.52" x2="51.20" y2="357.52" stroke="#000" stroke-width="1.7" stroke-linecap="butt"/>
<line x1="47.20" y1="316.16" x2="51.20" y2="316.16" stroke="#000" stroke-width="1.7" stroke-linecap="butt"/>
<line x1="47.20" y1="274.80" x2="51.20" y2="274.80" stroke="#000" stroke-width="1.7" stroke-linecap="butt"/>
<line x1="51.20" y1="481.60" x2="51.20" y2="485.20" stroke="#000" stroke-width="1.6" stroke-linecap="butt"/>
<line x1="85.30" y1="481.60" x2="85.30" y2="485.20" stroke="#000" stroke-width="1.6" stroke-linecap="butt"/>
<line x1="119.60" y1="481.60" x2="119.60" y2="485.20" stroke="#000" stroke-width="1.6" stroke-linecap="butt"/>
<line x1="153.50" y1="481.60" x2="153.50" y2="485.20" stroke="#000" stroke-width="1.6" stroke-linecap="butt"/>
<line x1="188.00" y1="481.60" x2="188.00" y2="485.20" stroke="#000" stroke-width="1.6" stroke-linecap="butt"/>
<line x1="222.30" y1="481.60" x2="222.30" y2="485.20" stroke="#000" stroke-width="1.6" stroke-linecap="butt"/>
<line x1="258.30" y1="481.60" x2="258.30" y2="485.20" stroke="#000" stroke-width="1.6" stroke-linecap="butt"/>
<text transform="translate(28.04 278.40) scale(1.147 1)" font-size="12.15" fill="#000">1.0</text>
<text transform="translate(28.04 485.35) scale(1.147 1)" font-size="12.15" fill="#000">0.0</text>
<text transform="translate(28.27 443.99) scale(1.147 1)" font-size="12.15" fill="#000">0.2</text>
<text transform="translate(27.81 402.63) scale(1.147 1)" font-size="12.15" fill="#000">0.4</text>
<text transform="translate(28.04 361.27) scale(1.147 1)" font-size="12.15" fill="#000">0.6</text>
<text transform="translate(28.04 319.91) scale(1.147 1)" font-size="12.15" fill="#000">0.8</text>
<text transform="translate(18.67 419.50) rotate(-90) scale(0.860 1)" font-size="13.93" fill="#000">Cell Survival</text>
<text transform="translate(74.48 496.70) scale(1.159 1)" font-size="12.46" fill="#000">2%</text>
<text transform="translate(143.57 496.70) scale(1.131 1)" font-size="12.46" fill="#000">4%</text>
<text transform="translate(211.95 496.70) scale(1.159 1)" font-size="12.46" fill="#000">6%</text>
<g fill="#000"><polygon points="102.21,353.00 101.30,349.62 104.10,349.62 103.19,353.00"/><circle cx="102.70" cy="349.62" r="1.52"/><polygon points="102.55,352.54 105.48,350.63 106.35,353.28 102.85,353.46"/><circle cx="105.92" cy="351.96" r="1.52"/><polygon points="103.09,352.71 105.82,354.91 103.56,356.56 102.31,353.29"/><circle cx="104.69" cy="355.74" r="1.52"/><polygon points="103.09,353.29 101.84,356.56 99.58,354.91 102.31,352.71"/><circle cx="100.71" cy="355.74" r="1.52"/><polygon points="102.55,353.46 99.05,353.28 99.92,350.63 102.85,352.54"/><circle cx="99.48" cy="351.96" r="1.52"/><circle cx="102.70" cy="353.00" r="0.63"/></g>
<g fill="#000"><polygon points="116.41,353.00 115.50,349.62 118.30,349.62 117.39,353.00"/><circle cx="116.90" cy="349.62" r="1.52"/><polygon points="116.75,352.54 119.68,350.63 120.55,353.28 117.05,353.46"/><circle cx="120.12" cy="351.96" r="1.52"/><polygon points="117.29,352.71 120.02,354.91 117.76,356.56 116.51,353.29"/><circle cx="118.89" cy="355.74" r="1.52"/><polygon points="117.29,353.29 116.04,356.56 113.78,354.91 116.51,352.71"/><circle cx="114.91" cy="355.74" r="1.52"/><polygon points="116.75,353.46 113.25,353.28 114.12,350.63 117.05,352.54"/><circle cx="113.68" cy="351.96" r="1.52"/><circle cx="116.90" cy="353.00" r="0.63"/></g>
<text transform="translate(274.33 270.80) scale(0.966 1)" font-size="22.77" fill="#000">E</text>
<rect x="347.60" y="391.69" width="15.10" height="89.71" fill="#000" stroke="#000" stroke-width="0.5"/>
<line x1="355.15" y1="385.94" x2="355.15" y2="394.83" stroke="#000" stroke-width="1.8" stroke-linecap="butt"/>
<line x1="352.35" y1="385.94" x2="357.95" y2="385.94" stroke="#000" stroke-width="2.2" stroke-linecap="butt"/>
<line x1="352.35" y1="394.83" x2="357.95" y2="394.83" stroke="#000" stroke-width="2.2" stroke-linecap="butt"/>
<rect x="362.70" y="398.99" width="15.10" height="82.41" fill="#da2a21" stroke="#000" stroke-width="0.5"/>
<line x1="370.25" y1="394.41" x2="370.25" y2="402.88" stroke="#000" stroke-width="1.8" stroke-linecap="butt"/>
<line x1="367.45" y1="394.41" x2="373.05" y2="394.41" stroke="#000" stroke-width="2.2" stroke-linecap="butt"/>
<line x1="367.45" y1="402.88" x2="373.05" y2="402.88" stroke="#000" stroke-width="2.2" stroke-linecap="butt"/>
<rect x="377.80" y="416.89" width="15.10" height="64.51" fill="#2550a6" stroke="#000" stroke-width="0.5"/>
<line x1="385.35" y1="416.32" x2="385.35" y2="417.47" stroke="#000" stroke-width="1.8" stroke-linecap="butt"/>
<line x1="382.55" y1="416.32" x2="388.15" y2="416.32" stroke="#000" stroke-width="2.2" stroke-linecap="butt"/>
<line x1="382.55" y1="417.47" x2="388.15" y2="417.47" stroke="#000" stroke-width="2.2" stroke-linecap="butt"/>
<rect x="404.40" y="318.42" width="15.10" height="162.98" fill="#000" stroke="#000" stroke-width="0.5"/>
<line x1="411.95" y1="313.28" x2="411.95" y2="322.68" stroke="#000" stroke-width="1.8" stroke-linecap="butt"/>
<line x1="409.15" y1="313.28" x2="414.75" y2="313.28" stroke="#000" stroke-width="2.2" stroke-linecap="butt"/>
<line x1="409.15" y1="322.68" x2="414.75" y2="322.68" stroke="#000" stroke-width="2.2" stroke-linecap="butt"/>
<rect x="419.50" y="318.68" width="15.10" height="162.72" fill="#da2a21" stroke="#000" stroke-width="0.5"/>
<line x1="427.05" y1="316.22" x2="427.05" y2="321.46" stroke="#000" stroke-width="1.8" stroke-linecap="butt"/>
<line x1="424.25" y1="316.22" x2="429.85" y2="316.22" stroke="#000" stroke-width="2.2" stroke-linecap="butt"/>
<line x1="424.25" y1="321.46" x2="429.85" y2="321.46" stroke="#000" stroke-width="2.2" stroke-linecap="butt"/>
<rect x="434.60" y="337.25" width="15.10" height="144.15" fill="#2550a6" stroke="#000" stroke-width="0.5"/>
<line x1="442.15" y1="335.21" x2="442.15" y2="339.49" stroke="#000" stroke-width="1.8" stroke-linecap="butt"/>
<line x1="439.35" y1="335.21" x2="444.95" y2="335.21" stroke="#000" stroke-width="2.2" stroke-linecap="butt"/>
<line x1="439.35" y1="339.49" x2="444.95" y2="339.49" stroke="#000" stroke-width="2.2" stroke-linecap="butt"/>
<rect x="461.20" y="279.60" width="15.10" height="201.80" fill="#000" stroke="#000" stroke-width="0.5"/>
<line x1="468.75" y1="275.97" x2="468.75" y2="282.40" stroke="#000" stroke-width="1.8" stroke-linecap="butt"/>
<line x1="465.95" y1="275.97" x2="471.55" y2="275.97" stroke="#000" stroke-width="2.2" stroke-linecap="butt"/>
<line x1="465.95" y1="282.40" x2="471.55" y2="282.40" stroke="#000" stroke-width="2.2" stroke-linecap="butt"/>
<rect x="476.30" y="275.97" width="15.10" height="205.43" fill="#da2a21" stroke="#000" stroke-width="0.5"/>
<line x1="483.85" y1="272.54" x2="483.85" y2="279.60" stroke="#000" stroke-width="1.8" stroke-linecap="butt"/>
<line x1="481.05" y1="272.54" x2="486.65" y2="272.54" stroke="#000" stroke-width="2.2" stroke-linecap="butt"/>
<line x1="481.05" y1="279.60" x2="486.65" y2="279.60" stroke="#000" stroke-width="2.2" stroke-linecap="butt"/>
<rect x="491.40" y="281.91" width="15.10" height="199.49" fill="#2550a6" stroke="#000" stroke-width="0.5"/>
<line x1="498.95" y1="281.43" x2="498.95" y2="282.40" stroke="#000" stroke-width="1.8" stroke-linecap="butt"/>
<line x1="496.15" y1="281.43" x2="501.75" y2="281.43" stroke="#000" stroke-width="2.2" stroke-linecap="butt"/>
<line x1="496.15" y1="282.40" x2="501.75" y2="282.40" stroke="#000" stroke-width="2.2" stroke-linecap="butt"/>
<rect x="517.90" y="311.42" width="15.10" height="169.98" fill="#000" stroke="#000" stroke-width="0.5"/>
<line x1="525.45" y1="309.20" x2="525.45" y2="313.38" stroke="#000" stroke-width="1.8" stroke-linecap="butt"/>
<line x1="522.65" y1="309.20" x2="528.25" y2="309.20" stroke="#000" stroke-width="2.2" stroke-linecap="butt"/>
<line x1="522.65" y1="313.38" x2="528.25" y2="313.38" stroke="#000" stroke-width="2.2" stroke-linecap="butt"/>
<rect x="533.00" y="314.43" width="15.10" height="166.97" fill="#da2a21" stroke="#000" stroke-width="0.5"/>
<line x1="540.55" y1="311.90" x2="540.55" y2="317.29" stroke="#000" stroke-width="1.8" stroke-linecap="butt"/>
<line x1="537.75" y1="311.90" x2="543.35" y2="311.90" stroke="#000" stroke-width="2.2" stroke-linecap="butt"/>
<line x1="537.75" y1="317.29" x2="543.35" y2="317.29" stroke="#000" stroke-width="2.2" stroke-linecap="butt"/>
<rect x="548.10" y="311.14" width="15.10" height="170.26" fill="#2550a6" stroke="#000" stroke-width="0.5"/>
<line x1="555.65" y1="309.37" x2="555.65" y2="313.08" stroke="#000" stroke-width="1.8" stroke-linecap="butt"/>
<line x1="552.85" y1="309.37" x2="558.45" y2="309.37" stroke="#000" stroke-width="2.2" stroke-linecap="butt"/>
<line x1="552.85" y1="313.08" x2="558.45" y2="313.08" stroke="#000" stroke-width="2.2" stroke-linecap="butt"/>
<rect x="574.70" y="327.18" width="15.10" height="154.22" fill="#000" stroke="#000" stroke-width="0.5"/>
<line x1="582.25" y1="324.47" x2="582.25" y2="330.27" stroke="#000" stroke-width="1.8" stroke-linecap="butt"/>
<line x1="579.45" y1="324.47" x2="585.05" y2="324.47" stroke="#000" stroke-width="2.2" stroke-linecap="butt"/>
<line x1="579.45" y1="330.27" x2="585.05" y2="330.27" stroke="#000" stroke-width="2.2" stroke-linecap="butt"/>
<rect x="589.80" y="337.55" width="15.10" height="143.85" fill="#da2a21" stroke="#000" stroke-width="0.5"/>
<line x1="597.35" y1="332.85" x2="597.35" y2="342.75" stroke="#000" stroke-width="1.8" stroke-linecap="butt"/>
<line x1="594.55" y1="332.85" x2="600.15" y2="332.85" stroke="#000" stroke-width="2.2" stroke-linecap="butt"/>
<line x1="594.55" y1="342.75" x2="600.15" y2="342.75" stroke="#000" stroke-width="2.2" stroke-linecap="butt"/>
<rect x="604.90" y="370.20" width="15.10" height="111.20" fill="#2550a6" stroke="#000" stroke-width="0.5"/>
<line x1="612.45" y1="360.69" x2="612.45" y2="384.06" stroke="#000" stroke-width="1.8" stroke-linecap="butt"/>
<line x1="609.65" y1="360.69" x2="615.25" y2="360.69" stroke="#000" stroke-width="2.2" stroke-linecap="butt"/>
<line x1="609.65" y1="384.06" x2="615.25" y2="384.06" stroke="#000" stroke-width="2.2" stroke-linecap="butt"/>
<rect x="631.40" y="439.08" width="15.10" height="42.32" fill="#000" stroke="#000" stroke-width="0.5"/>
<line x1="638.95" y1="436.11" x2="638.95" y2="442.51" stroke="#000" stroke-width="1.8" stroke-linecap="butt"/>
<line x1="636.15" y1="436.11" x2="641.75" y2="436.11" stroke="#000" stroke-width="2.2" stroke-linecap="butt"/>
<line x1="636.15" y1="442.51" x2="641.75" y2="442.51" stroke="#000" stroke-width="2.2" stroke-linecap="butt"/>
<rect x="646.50" y="430.95" width="15.10" height="50.45" fill="#da2a21" stroke="#000" stroke-width="0.5"/>
<line x1="654.05" y1="429.88" x2="654.05" y2="432.07" stroke="#000" stroke-width="1.8" stroke-linecap="butt"/>
<line x1="651.25" y1="429.88" x2="656.85" y2="429.88" stroke="#000" stroke-width="2.2" stroke-linecap="butt"/>
<line x1="651.25" y1="432.07" x2="656.85" y2="432.07" stroke="#000" stroke-width="2.2" stroke-linecap="butt"/>
<rect x="661.60" y="478.15" width="15.10" height="3.25" fill="#2550a6" stroke="#000" stroke-width="0.5"/>
<line x1="669.15" y1="475.15" x2="669.15" y2="478.15" stroke="#000" stroke-width="1.8" stroke-linecap="butt"/>
<line x1="666.35" y1="475.15" x2="671.95" y2="475.15" stroke="#000" stroke-width="2.2" stroke-linecap="butt"/>
<line x1="666.35" y1="478.15" x2="671.95" y2="478.15" stroke="#000" stroke-width="2.2" stroke-linecap="butt"/>
<line x1="342.30" y1="263.50" x2="342.30" y2="482.60" stroke="#000" stroke-width="2.3" stroke-linecap="butt"/>
<line x1="341.10" y1="481.40" x2="683.50" y2="481.40" stroke="#000" stroke-width="2.3" stroke-linecap="butt"/>
<line x1="339.10" y1="263.90" x2="342.30" y2="263.90" stroke="#000" stroke-width="1.8" stroke-linecap="butt"/>
<line x1="336.80" y1="279.60" x2="342.30" y2="279.60" stroke="#000" stroke-width="1.9" stroke-linecap="butt"/>
<line x1="338.70" y1="314.86" x2="342.30" y2="314.86" stroke="#000" stroke-width="1.3" stroke-linecap="butt"/>
<line x1="338.70" y1="305.98" x2="342.30" y2="305.98" stroke="#000" stroke-width="1.3" stroke-linecap="butt"/>
<line x1="338.70" y1="299.68" x2="342.30" y2="299.68" stroke="#000" stroke-width="1.3" stroke-linecap="butt"/>
<line x1="338.70" y1="294.79" x2="342.30" y2="294.79" stroke="#000" stroke-width="1.3" stroke-linecap="butt"/>
<line x1="338.70" y1="290.79" x2="342.30" y2="290.79" stroke="#000" stroke-width="1.3" stroke-linecap="butt"/>
<line x1="338.70" y1="287.41" x2="342.30" y2="287.41" stroke="#000" stroke-width="1.3" stroke-linecap="butt"/>
<line x1="338.70" y1="284.49" x2="342.30" y2="284.49" stroke="#000" stroke-width="1.3" stroke-linecap="butt"/>
<line x1="338.70" y1="281.91" x2="342.30" y2="281.91" stroke="#000" stroke-width="1.3" stroke-linecap="butt"/>
<line x1="336.80" y1="330.05" x2="342.30" y2="330.05" stroke="#000" stroke-width="1.9" stroke-linecap="butt"/>
<line x1="338.70" y1="365.31" x2="342.30" y2="365.31" stroke="#000" stroke-width="1.3" stroke-linecap="butt"/>
<line x1="338.70" y1="356.43" x2="342.30" y2="356.43" stroke="#000" stroke-width="1.3" stroke-linecap="butt"/>
<line x1="338.70" y1="350.13" x2="342.30" y2="350.13" stroke="#000" stroke-width="1.3" stroke-linecap="butt"/>
<line x1="338.70" y1="345.24" x2="342.30" y2="345.24" stroke="#000" stroke-width="1.3" stroke-linecap="butt"/>
<line x1="338.70" y1="341.24" x2="342.30" y2="341.24" stroke="#000" stroke-width="1.3" stroke-linecap="butt"/>
<line x1="338.70" y1="337.86" x2="342.30" y2="337.86" stroke="#000" stroke-width="1.3" stroke-linecap="butt"/>
<line x1="338.70" y1="334.94" x2="342.30" y2="334.94" stroke="#000" stroke-width="1.3" stroke-linecap="butt"/>
<line x1="338.70" y1="332.36" x2="342.30" y2="332.36" stroke="#000" stroke-width="1.3" stroke-linecap="butt"/>
<line x1="336.80" y1="380.50" x2="342.30" y2="380.50" stroke="#000" stroke-width="1.9" stroke-linecap="butt"/>
<line x1="338.70" y1="415.76" x2="342.30" y2="415.76" stroke="#000" stroke-width="1.3" stroke-linecap="butt"/>
<line x1="338.70" y1="406.88" x2="342.30" y2="406.88" stroke="#000" stroke-width="1.3" stroke-linecap="butt"/>
<line x1="338.70" y1="400.58" x2="342.30" y2="400.58" stroke="#000" stroke-width="1.3" stroke-linecap="butt"/>
<line x1="338.70" y1="395.69" x2="342.30" y2="395.69" stroke="#000" stroke-width="1.3" stroke-linecap="butt"/>
<line x1="338.70" y1="391.69" x2="342.30" y2="391.69" stroke="#000" stroke-width="1.3" stroke-linecap="butt"/>
<line x1="338.70" y1="388.31" x2="342.30" y2="388.31" stroke="#000" stroke-width="1.3" stroke-linecap="butt"/>
<line x1="338.70" y1="385.39" x2="342.30" y2="385.39" stroke="#000" stroke-width="1.3" stroke-linecap="butt"/>
<line x1="338.70" y1="382.81" x2="342.30" y2="382.81" stroke="#000" stroke-width="1.3" stroke-linecap="butt"/>
<line x1="336.80" y1="430.95" x2="342.30" y2="430.95" stroke="#000" stroke-width="1.9" stroke-linecap="butt"/>
<line x1="338.70" y1="466.21" x2="342.30" y2="466.21" stroke="#000" stroke-width="1.3" stroke-linecap="butt"/>
<line x1="338.70" y1="457.33" x2="342.30" y2="457.33" stroke="#000" stroke-width="1.3" stroke-linecap="butt"/>
<line x1="338.70" y1="451.03" x2="342.30" y2="451.03" stroke="#000" stroke-width="1.3" stroke-linecap="butt"/>
<line x1="338.70" y1="446.14" x2="342.30" y2="446.14" stroke="#000" stroke-width="1.3" stroke-linecap="butt"/>
<line x1="338.70" y1="442.14" x2="342.30" y2="442.14" stroke="#000" stroke-width="1.3" stroke-linecap="butt"/>
<line x1="338.70" y1="438.76" x2="342.30" y2="438.76" stroke="#000" stroke-width="1.3" stroke-linecap="butt"/>
<line x1="338.70" y1="435.84" x2="342.30" y2="435.84" stroke="#000" stroke-width="1.3" stroke-linecap="butt"/>
<line x1="338.70" y1="433.26" x2="342.30" y2="433.26" stroke="#000" stroke-width="1.3" stroke-linecap="butt"/>
<line x1="336.80" y1="481.40" x2="342.30" y2="481.40" stroke="#000" stroke-width="1.9" stroke-linecap="butt"/>
<line x1="342.30" y1="481.40" x2="342.30" y2="487.00" stroke="#000" stroke-width="1.8" stroke-linecap="butt"/>
<line x1="370.80" y1="481.40" x2="370.80" y2="487.00" stroke="#000" stroke-width="1.8" stroke-linecap="butt"/>
<line x1="399.30" y1="481.40" x2="399.30" y2="487.00" stroke="#000" stroke-width="1.8" stroke-linecap="butt"/>
<line x1="427.80" y1="481.40" x2="427.80" y2="487.00" stroke="#000" stroke-width="1.8" stroke-linecap="butt"/>
<line x1="456.30" y1="481.40" x2="456.30" y2="487.00" stroke="#000" stroke-width="1.8" stroke-linecap="butt"/>
<line x1="484.80" y1="481.40" x2="484.80" y2="487.00" stroke="#000" stroke-width="1.8" stroke-linecap="butt"/>
<line x1="513.30" y1="481.40" x2="513.30" y2="487.00" stroke="#000" stroke-width="1.8" stroke-linecap="butt"/>
<line x1="541.80" y1="481.40" x2="541.80" y2="487.00" stroke="#000" stroke-width="1.8" stroke-linecap="butt"/>
<line x1="570.30" y1="481.40" x2="570.30" y2="487.00" stroke="#000" stroke-width="1.8" stroke-linecap="butt"/>
<line x1="598.80" y1="481.40" x2="598.80" y2="487.00" stroke="#000" stroke-width="1.8" stroke-linecap="butt"/>
<line x1="627.30" y1="481.40" x2="627.30" y2="487.00" stroke="#000" stroke-width="1.8" stroke-linecap="butt"/>
<line x1="655.80" y1="481.40" x2="655.80" y2="487.00" stroke="#000" stroke-width="1.8" stroke-linecap="butt"/>
<line x1="684.30" y1="481.40" x2="684.30" y2="487.00" stroke="#000" stroke-width="1.8" stroke-linecap="butt"/>
<text transform="translate(312.69 384.10) scale(1.047 1)" font-size="11.69" fill="#000">0.01</text>
<text transform="translate(327.99 282.90) scale(1.047 1)" font-size="11.69" fill="#000">1</text>
<text transform="translate(318.81 333.35) scale(1.047 1)" font-size="11.69" fill="#000">0.1</text>
<text transform="translate(309.43 434.25) scale(1.047 1)" font-size="11.69" fill="#000">1E-3</text>
<text transform="translate(309.22 484.70) scale(1.047 1)" font-size="11.69" fill="#000">1E-4</text>
<text transform="translate(292.86 394.77) rotate(-90) scale(0.800 1)" font-size="14.14" fill="#000">Cell Survival</text>
<text transform="translate(355.00 499.93) scale(1.023 1)" font-size="11.88" fill="#000">pH4.0</text>
<text transform="translate(412.00 499.93) scale(1.023 1)" font-size="11.88" fill="#000">pH5.0</text>
<text transform="translate(469.00 499.93) scale(1.023 1)" font-size="11.88" fill="#000">pH7.0</text>
<text transform="translate(526.00 499.93) scale(1.023 1)" font-size="11.88" fill="#000">pH8.0</text>
<text transform="translate(583.00 499.93) scale(1.023 1)" font-size="11.88" fill="#000">pH9.0</text>
<text transform="translate(636.96 499.93) scale(1.023 1)" font-size="11.88" fill="#000">pH10.0</text>
<g fill="#000"><polygon points="384.25,386.30 383.60,383.19 385.60,383.19 384.95,386.30"/><circle cx="384.60" cy="383.19" r="1.09"/><polygon points="384.49,385.97 387.25,384.38 387.87,386.30 384.71,386.63"/><circle cx="387.56" cy="385.34" r="1.09"/><polygon points="384.88,386.09 387.24,388.22 385.61,389.40 384.32,386.51"/><circle cx="386.43" cy="388.81" r="1.09"/><polygon points="384.88,386.51 383.59,389.40 381.96,388.22 384.32,386.09"/><circle cx="382.77" cy="388.81" r="1.09"/><polygon points="384.49,386.63 381.33,386.30 381.95,384.38 384.71,385.97"/><circle cx="381.64" cy="385.34" r="1.09"/><circle cx="384.60" cy="386.30" r="0.45"/></g>
<g fill="#000"><polygon points="384.58,398.90 383.79,395.52 386.21,395.52 385.42,398.90"/><circle cx="385.00" cy="395.52" r="1.32"/><polygon points="384.87,398.50 387.84,396.70 388.59,399.01 385.13,399.30"/><circle cx="388.22" cy="397.85" r="1.32"/><polygon points="385.34,398.65 387.97,400.93 386.01,402.35 384.66,399.15"/><circle cx="386.99" cy="401.64" r="1.32"/><polygon points="385.34,399.15 383.99,402.35 382.03,400.93 384.66,398.65"/><circle cx="383.01" cy="401.64" r="1.32"/><polygon points="384.87,399.30 381.41,399.01 382.16,396.70 385.13,398.50"/><circle cx="381.78" cy="397.85" r="1.32"/><circle cx="385.00" cy="398.90" r="0.55"/></g>
<g fill="#000"><polygon points="442.26,307.50 441.62,304.47 443.58,304.47 442.94,307.50"/><circle cx="442.60" cy="304.47" r="1.07"/><polygon points="442.49,307.18 445.18,305.63 445.79,307.50 442.71,307.82"/><circle cx="445.49" cy="306.56" r="1.07"/><polygon points="442.88,307.30 445.18,309.38 443.59,310.53 442.32,307.70"/><circle cx="444.38" cy="309.95" r="1.07"/><polygon points="442.88,307.70 441.61,310.53 440.02,309.38 442.32,307.30"/><circle cx="440.82" cy="309.95" r="1.07"/><polygon points="442.49,307.82 439.41,307.50 440.02,305.63 442.71,307.18"/><circle cx="439.71" cy="306.56" r="1.07"/><circle cx="442.60" cy="307.50" r="0.44"/></g>
<g fill="#000"><polygon points="442.59,320.10 441.83,316.47 444.17,316.47 443.41,320.10"/><circle cx="443.00" cy="316.47" r="1.27"/><polygon points="442.87,319.71 446.09,317.86 446.81,320.09 443.13,320.49"/><circle cx="446.45" cy="318.98" r="1.27"/><polygon points="443.33,319.86 446.08,322.34 444.18,323.72 442.67,320.34"/><circle cx="445.13" cy="323.03" r="1.27"/><polygon points="443.33,320.34 441.82,323.72 439.92,322.34 442.67,319.86"/><circle cx="440.87" cy="323.03" r="1.27"/><polygon points="442.87,320.49 439.19,320.09 439.91,317.86 443.13,319.71"/><circle cx="439.55" cy="318.98" r="1.27"/><circle cx="443.00" cy="320.10" r="0.53"/></g>
<g fill="#000"><polygon points="611.24,334.10 610.57,330.92 612.63,330.92 611.96,334.10"/><circle cx="611.60" cy="330.92" r="1.12"/><polygon points="611.49,333.76 614.31,332.14 614.94,334.09 611.71,334.44"/><circle cx="614.63" cy="333.12" r="1.12"/><polygon points="611.89,333.89 614.30,336.07 612.64,337.28 611.31,334.31"/><circle cx="613.47" cy="336.67" r="1.12"/><polygon points="611.89,334.31 610.56,337.28 608.90,336.07 611.31,333.89"/><circle cx="609.73" cy="336.67" r="1.12"/><polygon points="611.49,334.44 608.26,334.09 608.89,332.14 611.71,333.76"/><circle cx="608.57" cy="333.12" r="1.12"/><circle cx="611.60" cy="334.10" r="0.47"/></g>
<g fill="#000"><polygon points="611.64,343.60 610.97,340.42 613.03,340.42 612.36,343.60"/><circle cx="612.00" cy="340.42" r="1.12"/><polygon points="611.89,343.26 614.71,341.64 615.34,343.59 612.11,343.94"/><circle cx="615.03" cy="342.62" r="1.12"/><polygon points="612.29,343.39 614.70,345.57 613.04,346.78 611.71,343.81"/><circle cx="613.87" cy="346.17" r="1.12"/><polygon points="612.29,343.81 610.96,346.78 609.30,345.57 611.71,343.39"/><circle cx="610.13" cy="346.17" r="1.12"/><polygon points="611.89,343.94 608.66,343.59 609.29,341.64 612.11,343.26"/><circle cx="608.97" cy="342.62" r="1.12"/><circle cx="612.00" cy="343.60" r="0.47"/></g>
<g fill="#000"><polygon points="668.86,434.20 668.22,431.17 670.18,431.17 669.54,434.20"/><circle cx="669.20" cy="431.17" r="1.07"/><polygon points="669.09,433.88 671.78,432.33 672.39,434.20 669.31,434.52"/><circle cx="672.09" cy="433.26" r="1.07"/><polygon points="669.48,434.00 671.78,436.08 670.19,437.23 668.92,434.40"/><circle cx="670.98" cy="436.65" r="1.07"/><polygon points="669.48,434.40 668.21,437.23 666.62,436.08 668.92,434.00"/><circle cx="667.42" cy="436.65" r="1.07"/><polygon points="669.09,434.52 666.01,434.20 666.62,432.33 669.31,433.88"/><circle cx="666.31" cy="433.26" r="1.07"/><circle cx="669.20" cy="434.20" r="0.44"/></g>
<g fill="#000"><polygon points="668.86,445.90 668.22,442.87 670.18,442.87 669.54,445.90"/><circle cx="669.20" cy="442.87" r="1.07"/><polygon points="669.09,445.58 671.78,444.03 672.39,445.90 669.31,446.22"/><circle cx="672.09" cy="444.96" r="1.07"/><polygon points="669.48,445.70 671.78,447.78 670.19,448.93 668.92,446.10"/><circle cx="670.98" cy="448.35" r="1.07"/><polygon points="669.48,446.10 668.21,448.93 666.62,447.78 668.92,445.70"/><circle cx="667.42" cy="448.35" r="1.07"/><polygon points="669.09,446.22 666.01,445.90 666.62,444.03 669.31,445.58"/><circle cx="666.31" cy="444.96" r="1.07"/><circle cx="669.20" cy="445.90" r="0.44"/></g>
<g fill="#000"><polygon points="668.86,457.40 668.22,454.37 670.18,454.37 669.54,457.40"/><circle cx="669.20" cy="454.37" r="1.07"/><polygon points="669.09,457.08 671.78,455.53 672.39,457.40 669.31,457.72"/><circle cx="672.09" cy="456.46" r="1.07"/><polygon points="669.48,457.20 671.78,459.28 670.19,460.43 668.92,457.60"/><circle cx="670.98" cy="459.85" r="1.07"/><polygon points="669.48,457.60 668.21,460.43 666.62,459.28 668.92,457.20"/><circle cx="667.42" cy="459.85" r="1.07"/><polygon points="669.09,457.72 666.01,457.40 666.62,455.53 669.31,457.08"/><circle cx="666.31" cy="456.46" r="1.07"/><circle cx="669.20" cy="457.40" r="0.44"/></g>
<text transform="translate(1.63 548.60) scale(0.938 1)" font-size="23.85" fill="#000">F</text>
<rect x="70.10" y="588.59" width="25.20" height="165.81" fill="#000" stroke="#000" stroke-width="0.6"/>
<line x1="82.70" y1="586.75" x2="82.70" y2="588.59" stroke="#000" stroke-width="1.5" stroke-linecap="butt"/>
<line x1="80.30" y1="586.75" x2="85.10" y2="586.75" stroke="#000" stroke-width="1.9" stroke-linecap="butt"/>
<rect x="95.30" y="579.10" width="25.20" height="175.30" fill="#da2a21" stroke="#000" stroke-width="0.6"/>
<line x1="107.90" y1="573.80" x2="107.90" y2="584.39" stroke="#000" stroke-width="1.5" stroke-linecap="butt"/>
<line x1="105.50" y1="573.80" x2="110.30" y2="573.80" stroke="#000" stroke-width="1.9" stroke-linecap="butt"/>
<line x1="105.50" y1="584.39" x2="110.30" y2="584.39" stroke="#000" stroke-width="1.9" stroke-linecap="butt"/>
<rect x="120.50" y="669.25" width="25.20" height="85.15" fill="#2550a6" stroke="#000" stroke-width="0.6"/>
<line x1="133.10" y1="666.81" x2="133.10" y2="671.70" stroke="#000" stroke-width="1.5" stroke-linecap="butt"/>
<line x1="130.70" y1="666.81" x2="135.50" y2="666.81" stroke="#000" stroke-width="1.9" stroke-linecap="butt"/>
<line x1="130.70" y1="671.70" x2="135.50" y2="671.70" stroke="#000" stroke-width="1.9" stroke-linecap="butt"/>
<rect x="164.70" y="568.63" width="25.20" height="185.77" fill="#000" stroke="#000" stroke-width="0.6"/>
<line x1="177.30" y1="561.70" x2="177.30" y2="568.63" stroke="#000" stroke-width="1.5" stroke-linecap="butt"/>
<line x1="174.90" y1="561.70" x2="179.70" y2="561.70" stroke="#000" stroke-width="1.9" stroke-linecap="butt"/>
<rect x="189.90" y="593.80" width="25.20" height="160.60" fill="#da2a21" stroke="#000" stroke-width="0.6"/>
<line x1="202.50" y1="588.10" x2="202.50" y2="599.51" stroke="#000" stroke-width="1.5" stroke-linecap="butt"/>
<line x1="200.10" y1="588.10" x2="204.90" y2="588.10" stroke="#000" stroke-width="1.9" stroke-linecap="butt"/>
<line x1="200.10" y1="599.51" x2="204.90" y2="599.51" stroke="#000" stroke-width="1.9" stroke-linecap="butt"/>
<rect x="215.10" y="707.06" width="25.20" height="47.34" fill="#2550a6" stroke="#000" stroke-width="0.6"/>
<line x1="227.70" y1="703.80" x2="227.70" y2="710.32" stroke="#000" stroke-width="1.5" stroke-linecap="butt"/>
<line x1="225.30" y1="703.80" x2="230.10" y2="703.80" stroke="#000" stroke-width="1.9" stroke-linecap="butt"/>
<line x1="225.30" y1="710.32" x2="230.10" y2="710.32" stroke="#000" stroke-width="1.9" stroke-linecap="butt"/>
<line x1="60.20" y1="549.90" x2="60.20" y2="755.30" stroke="#000" stroke-width="1.8" stroke-linecap="butt"/>
<line x1="59.30" y1="754.40" x2="250.30" y2="754.40" stroke="#000" stroke-width="1.9" stroke-linecap="butt"/>
<line x1="56.60" y1="754.40" x2="60.20" y2="754.40" stroke="#000" stroke-width="1.7" stroke-linecap="butt"/>
<line x1="56.60" y1="713.66" x2="60.20" y2="713.66" stroke="#000" stroke-width="1.7" stroke-linecap="butt"/>
<line x1="56.60" y1="672.92" x2="60.20" y2="672.92" stroke="#000" stroke-width="1.7" stroke-linecap="butt"/>
<line x1="56.60" y1="632.18" x2="60.20" y2="632.18" stroke="#000" stroke-width="1.7" stroke-linecap="butt"/>
<line x1="56.60" y1="591.44" x2="60.20" y2="591.44" stroke="#000" stroke-width="1.7" stroke-linecap="butt"/>
<line x1="56.60" y1="550.70" x2="60.20" y2="550.70" stroke="#000" stroke-width="1.7" stroke-linecap="butt"/>
<line x1="58.60" y1="734.03" x2="60.20" y2="734.03" stroke="#000" stroke-width="1.4" stroke-linecap="butt"/>
<line x1="58.60" y1="693.29" x2="60.20" y2="693.29" stroke="#000" stroke-width="1.4" stroke-linecap="butt"/>
<line x1="58.60" y1="652.55" x2="60.20" y2="652.55" stroke="#000" stroke-width="1.4" stroke-linecap="butt"/>
<line x1="58.60" y1="611.81" x2="60.20" y2="611.81" stroke="#000" stroke-width="1.4" stroke-linecap="butt"/>
<line x1="58.60" y1="571.07" x2="60.20" y2="571.07" stroke="#000" stroke-width="1.4" stroke-linecap="butt"/>
<line x1="60.20" y1="754.40" x2="60.20" y2="757.40" stroke="#000" stroke-width="1.6" stroke-linecap="butt"/>
<line x1="107.50" y1="754.40" x2="107.50" y2="757.40" stroke="#000" stroke-width="1.6" stroke-linecap="butt"/>
<line x1="155.50" y1="754.40" x2="155.50" y2="757.40" stroke="#000" stroke-width="1.6" stroke-linecap="butt"/>
<line x1="202.30" y1="754.40" x2="202.30" y2="757.40" stroke="#000" stroke-width="1.6" stroke-linecap="butt"/>
<line x1="250.30" y1="754.40" x2="250.30" y2="757.40" stroke="#000" stroke-width="1.6" stroke-linecap="butt"/>
<text transform="translate(30.09 553.80) scale(1.127 1)" font-size="10.92" fill="#000">5000</text>
<text transform="translate(48.56 758.20) scale(1.127 1)" font-size="10.92" fill="#000">0</text>
<text transform="translate(30.09 717.46) scale(1.127 1)" font-size="10.92" fill="#000">1000</text>
<text transform="translate(30.09 676.72) scale(1.127 1)" font-size="10.92" fill="#000">2000</text>
<text transform="translate(30.09 635.98) scale(1.127 1)" font-size="10.92" fill="#000">3000</text>
<text transform="translate(30.09 595.24) scale(1.127 1)" font-size="10.92" fill="#000">4000</text>
<text transform="translate(17.20 690.00) rotate(-90) scale(0.797 1)" font-size="14.93" fill="#000">colonization</text>
<text transform="translate(96.05 767.90) scale(1.073 1)" font-size="12.15" fill="#000">24 h</text>
<text transform="translate(191.39 767.90) scale(1.053 1)" font-size="12.15" fill="#000">48 h</text>
<g fill="#000"><polygon points="127.82,647.10 126.93,643.79 129.67,643.79 128.78,647.10"/><circle cx="128.30" cy="643.79" r="1.49"/><polygon points="128.15,646.65 131.03,644.77 131.87,647.38 128.45,647.55"/><circle cx="131.45" cy="646.08" r="1.49"/><polygon points="128.69,646.82 131.35,648.97 129.14,650.58 127.91,647.38"/><circle cx="130.25" cy="649.78" r="1.49"/><polygon points="128.69,647.38 127.46,650.58 125.25,648.97 127.91,646.82"/><circle cx="126.35" cy="649.78" r="1.49"/><polygon points="128.15,647.55 124.73,647.38 125.57,644.77 128.45,646.65"/><circle cx="125.15" cy="646.08" r="1.49"/><circle cx="128.30" cy="647.10" r="0.62"/></g>
<g fill="#000"><polygon points="140.82,647.10 139.93,643.79 142.67,643.79 141.78,647.10"/><circle cx="141.30" cy="643.79" r="1.49"/><polygon points="141.15,646.65 144.03,644.77 144.87,647.38 141.45,647.55"/><circle cx="144.45" cy="646.08" r="1.49"/><polygon points="141.69,646.82 144.35,648.97 142.14,650.58 140.91,647.38"/><circle cx="143.25" cy="649.78" r="1.49"/><polygon points="141.69,647.38 140.46,650.58 138.25,648.97 140.91,646.82"/><circle cx="139.35" cy="649.78" r="1.49"/><polygon points="141.15,647.55 137.73,647.38 138.57,644.77 141.45,646.65"/><circle cx="138.15" cy="646.08" r="1.49"/><circle cx="141.30" cy="647.10" r="0.62"/></g>
<g fill="#000"><polygon points="221.83,685.70 220.96,682.46 223.64,682.46 222.77,685.70"/><circle cx="222.30" cy="682.46" r="1.46"/><polygon points="222.16,685.26 224.97,683.42 225.80,685.97 222.44,686.14"/><circle cx="225.38" cy="684.70" r="1.46"/><polygon points="222.68,685.43 225.29,687.54 223.12,689.11 221.92,685.97"/><circle cx="224.21" cy="688.32" r="1.46"/><polygon points="222.68,685.97 221.48,689.11 219.31,687.54 221.92,685.43"/><circle cx="220.39" cy="688.32" r="1.46"/><polygon points="222.16,686.14 218.80,685.97 219.63,683.42 222.44,685.26"/><circle cx="219.22" cy="684.70" r="1.46"/><circle cx="222.30" cy="685.70" r="0.61"/></g>
<g fill="#000"><polygon points="234.83,685.70 233.96,682.46 236.64,682.46 235.77,685.70"/><circle cx="235.30" cy="682.46" r="1.46"/><polygon points="235.16,685.26 237.97,683.42 238.80,685.97 235.44,686.14"/><circle cx="238.38" cy="684.70" r="1.46"/><polygon points="235.68,685.43 238.29,687.54 236.12,689.11 234.92,685.97"/><circle cx="237.21" cy="688.32" r="1.46"/><polygon points="235.68,685.97 234.48,689.11 232.31,687.54 234.92,685.43"/><circle cx="233.39" cy="688.32" r="1.46"/><polygon points="235.16,686.14 231.80,685.97 232.63,683.42 235.44,685.26"/><circle cx="232.22" cy="684.70" r="1.46"/><circle cx="235.30" cy="685.70" r="0.61"/></g>
<rect x="265.60" y="628.80" width="25.40" height="9.90" fill="#000" stroke="#222" stroke-width="0.5"/>
<text transform="translate(295.32 637.88) scale(0.994 1)" font-size="11.02" fill="#000">YBT1518</text>
<rect x="265.60" y="643.10" width="25.40" height="9.90" fill="#da2a21" stroke="#222" stroke-width="0.5"/>
<text transform="translate(294.61 652.28) scale(1.017 1)" font-size="11.02" fill="#000">BMB1684</text>
<rect x="265.60" y="657.70" width="25.40" height="9.90" fill="#2550a6" stroke="#222" stroke-width="0.5"/>
<text transform="translate(294.61 666.53) scale(1.021 1)" font-size="11.02" fill="#000">BMB1685</text>
<text transform="translate(405.87 546.90) scale(0.917 1)" font-size="24.62" fill="#000">G</text>
<line x1="469.20" y1="542.50" x2="668.60" y2="542.50" stroke="#74c04c" stroke-width="1.8" stroke-linecap="butt"/>
<polyline points="469.20,542.10 494.13,542.10 494.13,564.84 519.05,564.84 519.05,610.33 543.98,610.33 543.98,656.02 568.90,656.02 568.90,686.35 593.83,686.35 593.83,716.67 618.75,716.67 618.75,747.00" fill="none" stroke="#000" stroke-width="1.9"/>
<polyline points="469.20,542.10 494.13,542.10 494.13,550.71 519.05,550.71 519.05,576.32 543.98,576.32 543.98,593.33 568.90,593.33 568.90,627.54 593.83,627.54 593.83,687.58 618.75,687.58 618.75,712.78 643.68,712.78 643.68,747.00" fill="none" stroke="#da2a21" stroke-width="1.9"/>
<polyline points="469.20,542.10 494.13,542.10 494.13,545.17 519.05,545.17 519.05,559.93 543.98,559.93 543.98,588.20 568.90,588.20 568.90,619.96 593.83,619.96 593.83,634.10 618.75,634.10 618.75,647.83 643.68,647.83 643.68,662.58 668.60,662.58 668.60,684.10" fill="none" stroke="#2550a6" stroke-width="1.9"/>
<line x1="469.20" y1="541.20" x2="469.20" y2="747.90" stroke="#000" stroke-width="1.9" stroke-linecap="butt"/>
<line x1="468.30" y1="747.00" x2="669.40" y2="747.00" stroke="#000" stroke-width="1.9" stroke-linecap="butt"/>
<line x1="465.20" y1="747.00" x2="469.20" y2="747.00" stroke="#000" stroke-width="1.7" stroke-linecap="butt"/>
<line x1="465.20" y1="706.02" x2="469.20" y2="706.02" stroke="#000" stroke-width="1.7" stroke-linecap="butt"/>
<line x1="465.20" y1="665.04" x2="469.20" y2="665.04" stroke="#000" stroke-width="1.7" stroke-linecap="butt"/>
<line x1="465.20" y1="624.06" x2="469.20" y2="624.06" stroke="#000" stroke-width="1.7" stroke-linecap="butt"/>
<line x1="465.20" y1="583.08" x2="469.20" y2="583.08" stroke="#000" stroke-width="1.7" stroke-linecap="butt"/>
<line x1="465.20" y1="542.10" x2="469.20" y2="542.10" stroke="#000" stroke-width="1.7" stroke-linecap="butt"/>
<line x1="469.20" y1="747.00" x2="469.20" y2="750.80" stroke="#000" stroke-width="1.7" stroke-linecap="butt"/>
<line x1="494.13" y1="747.00" x2="494.13" y2="750.80" stroke="#000" stroke-width="1.7" stroke-linecap="butt"/>
<line x1="519.05" y1="747.00" x2="519.05" y2="750.80" stroke="#000" stroke-width="1.7" stroke-linecap="butt"/>
<line x1="543.98" y1="747.00" x2="543.98" y2="750.80" stroke="#000" stroke-width="1.7" stroke-linecap="butt"/>
<line x1="568.90" y1="747.00" x2="568.90" y2="750.80" stroke="#000" stroke-width="1.7" stroke-linecap="butt"/>
<line x1="593.83" y1="747.00" x2="593.83" y2="750.80" stroke="#000" stroke-width="1.7" stroke-linecap="butt"/>
<line x1="618.75" y1="747.00" x2="618.75" y2="750.80" stroke="#000" stroke-width="1.7" stroke-linecap="butt"/>
<line x1="643.68" y1="747.00" x2="643.68" y2="750.80" stroke="#000" stroke-width="1.7" stroke-linecap="butt"/>
<line x1="668.60" y1="747.00" x2="668.60" y2="750.80" stroke="#000" stroke-width="1.7" stroke-linecap="butt"/>
<text transform="translate(447.93 545.30) scale(1.171 1)" font-size="10.92" fill="#000">1.0</text>
<text transform="translate(447.93 750.25) scale(1.171 1)" font-size="10.92" fill="#000">0.0</text>
<text transform="translate(448.15 709.27) scale(1.171 1)" font-size="10.92" fill="#000">0.2</text>
<text transform="translate(447.72 668.29) scale(1.171 1)" font-size="10.92" fill="#000">0.4</text>
<text transform="translate(447.93 627.31) scale(1.171 1)" font-size="10.92" fill="#000">0.6</text>
<text transform="translate(447.93 586.33) scale(1.171 1)" font-size="10.92" fill="#000">0.8</text>
<text transform="translate(443.58 688.68) rotate(-90) scale(0.825 1)" font-size="13.14" fill="#000">Nematode Survival</text>
<text transform="translate(480.84 770.55) scale(1.250 1) rotate(-45)" font-size="10.18" fill="#000">12 h</text>
<text transform="translate(460.66 766.98) scale(1.250 1) rotate(-45)" font-size="10.18" fill="#000">0 h</text>
<text transform="translate(506.09 770.55) scale(1.250 1) rotate(-45)" font-size="10.18" fill="#000">24 h</text>
<text transform="translate(531.02 770.55) scale(1.250 1) rotate(-45)" font-size="10.18" fill="#000">36 h</text>
<text transform="translate(555.94 770.55) scale(1.250 1) rotate(-45)" font-size="10.18" fill="#000">48 h</text>
<text transform="translate(580.87 770.55) scale(1.250 1) rotate(-45)" font-size="10.18" fill="#000">60 h</text>
<text transform="translate(605.79 770.55) scale(1.250 1) rotate(-45)" font-size="10.18" fill="#000">72 h</text>
<text transform="translate(630.72 770.55) scale(1.250 1) rotate(-45)" font-size="10.18" fill="#000">84 h</text>
<text transform="translate(655.65 770.55) scale(1.250 1) rotate(-45)" font-size="10.18" fill="#000">96 h</text>
<text transform="translate(625.09 708.50) scale(1.070 1)" font-size="11.69" fill="#000">ND</text>
<g fill="#222"><polygon points="652.26,653.60 651.81,651.75 653.19,651.75 652.74,653.60"/><circle cx="652.50" cy="651.75" r="0.75"/><polygon points="652.43,653.37 654.05,652.37 654.47,653.68 652.57,653.83"/><circle cx="654.26" cy="653.03" r="0.75"/><polygon points="652.69,653.46 654.15,654.69 653.03,655.50 652.31,653.74"/><circle cx="653.59" cy="655.10" r="0.75"/><polygon points="652.69,653.74 651.97,655.50 650.85,654.69 652.31,653.46"/><circle cx="651.41" cy="655.10" r="0.75"/><polygon points="652.43,653.83 650.53,653.68 650.95,652.37 652.57,653.37"/><circle cx="650.74" cy="653.03" r="0.75"/><circle cx="652.50" cy="653.60" r="0.31"/></g>
<g fill="#222"><polygon points="659.16,653.60 658.71,651.75 660.09,651.75 659.64,653.60"/><circle cx="659.40" cy="651.75" r="0.75"/><polygon points="659.33,653.37 660.95,652.37 661.37,653.68 659.47,653.83"/><circle cx="661.16" cy="653.03" r="0.75"/><polygon points="659.59,653.46 661.05,654.69 659.93,655.50 659.21,653.74"/><circle cx="660.49" cy="655.10" r="0.75"/><polygon points="659.59,653.74 658.87,655.50 657.75,654.69 659.21,653.46"/><circle cx="658.31" cy="655.10" r="0.75"/><polygon points="659.33,653.83 657.43,653.68 657.85,652.37 659.47,653.37"/><circle cx="657.64" cy="653.03" r="0.75"/><circle cx="659.40" cy="653.60" r="0.31"/></g>
<g fill="#222"><polygon points="665.26,653.60 664.81,651.75 666.19,651.75 665.74,653.60"/><circle cx="665.50" cy="651.75" r="0.75"/><polygon points="665.43,653.37 667.05,652.37 667.47,653.68 665.57,653.83"/><circle cx="667.26" cy="653.03" r="0.75"/><polygon points="665.69,653.46 667.15,654.69 666.03,655.50 665.31,653.74"/><circle cx="666.59" cy="655.10" r="0.75"/><polygon points="665.69,653.74 664.97,655.50 663.85,654.69 665.31,653.46"/><circle cx="664.41" cy="655.10" r="0.75"/><polygon points="665.43,653.83 663.53,653.68 663.95,652.37 665.57,653.37"/><circle cx="663.74" cy="653.03" r="0.75"/><circle cx="665.50" cy="653.60" r="0.31"/></g>
<line x1="478.50" y1="691.60" x2="503.00" y2="691.60" stroke="#74c04c" stroke-width="2.6" stroke-linecap="round"/>
<text transform="translate(506.36 694.90) scale(1.230 1)" font-size="8.77" fill="#000">OP50</text>
<line x1="478.50" y1="703.40" x2="503.00" y2="703.40" stroke="#000" stroke-width="2.6" stroke-linecap="round"/>
<text transform="translate(506.72 706.55) scale(1.212 1)" font-size="8.77" fill="#000">YBT1518</text>
<line x1="478.50" y1="715.30" x2="503.00" y2="715.30" stroke="#da2a21" stroke-width="2.6" stroke-linecap="round"/>
<text transform="translate(506.72 718.20) scale(1.213 1)" font-size="8.77" fill="#000">BMB1684</text>
<line x1="478.50" y1="726.40" x2="503.00" y2="726.40" stroke="#2550a6" stroke-width="2.6" stroke-linecap="round"/>
<text transform="translate(506.72 729.55) scale(1.218 1)" font-size="8.77" fill="#000">BMB1685</text>
</svg>
</body></html>
